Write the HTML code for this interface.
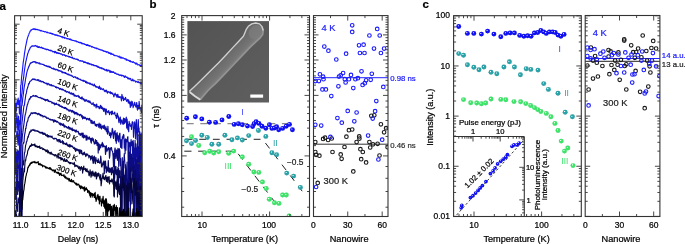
<!DOCTYPE html>
<html><head><meta charset="utf-8"><style>
html,body{margin:0;padding:0;background:#fff;width:685px;height:244px;overflow:hidden}
svg{display:block;will-change:transform}
text{font-family:"Liberation Sans", sans-serif;stroke:currentColor;stroke-width:0.22px}
</style></head><body>
<svg width="685" height="244" viewBox="0 0 685 244" font-family='"Liberation Sans", sans-serif'><defs>
<clipPath id="clipA"><rect x="14.6" y="16" width="127.6" height="200.8"/></clipPath>
<clipPath id="clipB"><rect x="181.7" y="15.8" width="127.8" height="201.1"/></clipPath>
<clipPath id="clipBR"><rect x="313.5" y="15.8" width="74.5" height="201.1"/></clipPath>
<clipPath id="clipC"><rect x="453.6" y="16" width="127.7" height="200.9"/></clipPath>
<clipPath id="clipCR"><rect x="585.2" y="15.6" width="74.7" height="201.2"/></clipPath>
<linearGradient id="semg" x1="0" y1="0" x2="1" y2="1"><stop offset="0" stop-color="#535353"/><stop offset="1" stop-color="#5f5f5f"/></linearGradient>
<linearGradient id="wireg" gradientUnits="userSpaceOnUse" x1="218.4" y1="64" x2="229.5" y2="74.6"><stop offset="0" stop-color="#6a6a6a"/><stop offset="0.5" stop-color="#747474"/><stop offset="0.8" stop-color="#848484"/><stop offset="1" stop-color="#8a8a8a"/></linearGradient>
<radialGradient id="gB" cx="0.5" cy="0.5" r="0.55" fx="0.36" fy="0.33">
<stop offset="0" stop-color="#ffffff"/><stop offset="0.12" stop-color="#b8b8ff"/><stop offset="0.34" stop-color="#1010f4"/><stop offset="0.82" stop-color="#1010f4"/><stop offset="1" stop-color="#0808b0"/></radialGradient><radialGradient id="gT" cx="0.5" cy="0.5" r="0.55" fx="0.36" fy="0.33">
<stop offset="0" stop-color="#ffffff"/><stop offset="0.12" stop-color="#c8f0f0"/><stop offset="0.34" stop-color="#2aa2a8"/><stop offset="0.82" stop-color="#2aa2a8"/><stop offset="1" stop-color="#1a7a80"/></radialGradient><radialGradient id="gG" cx="0.5" cy="0.5" r="0.55" fx="0.36" fy="0.33">
<stop offset="0" stop-color="#ffffff"/><stop offset="0.12" stop-color="#d0ffd8"/><stop offset="0.34" stop-color="#3ee46a"/><stop offset="0.82" stop-color="#3ee46a"/><stop offset="1" stop-color="#22b048"/></radialGradient></defs><text x="-0.5" y="9.8" font-size="11.5" text-anchor="start" fill="#000" color="#000" font-weight="bold" >a</text>
<text x="149.6" y="8.2" font-size="11.5" text-anchor="start" fill="#000" color="#000" font-weight="bold" >b</text>
<text x="422.6" y="8.3" font-size="11.5" text-anchor="start" fill="#000" color="#000" font-weight="bold" >c</text>
<g clip-path="url(#clipA)">
<path d="M14.8,97.01 L15.22,116.42 L15.64,109.69 L16.06,103.42 L16.48,110.8 L16.9,102.82 L17.32,100.11 L17.74,104.12 L18.16,98.08 L18.58,104.53 L19,100.25 L19.42,113.98 L19.84,100.91 L20.26,101.14 L20.68,85.51 L21.1,84.75 L21.52,77.83 L21.94,74.35 L22.36,70.6 L22.78,66.76 L23.2,62.65 L23.62,59.97 L24.04,57.22 L24.46,53.62 L24.88,51.12 L25.3,48.58 L25.6,46.47 L25.9,45.32 L26.2,43.91 L26.5,42.47 L26.8,40.96 L27.1,39.48 L27.4,38.47 L27.7,37.3 L28,36.53 L28.3,35.66 L28.6,35.03 L28.9,34.15 L29.2,33.17 L29.5,32.88 L29.8,32.17 L30.1,31.12 L30.4,30.78 L30.7,31 L31,29.9 L31.3,30.22 L31.6,29.86 L31.9,29.69 L32.2,29.4 L32.5,29.41 L32.8,29.18 L33.1,28.86 L33.4,29.36 L33.7,28.75 L34,29.14 L34.3,29.03 L34.6,28.77 L34.9,29.65 L35.2,29.03 L35.5,29.01 L35.8,29.2 L36.1,29.57 L36.4,29.6 L36.7,29.55 L37,29.27 L37.3,29.47 L37.6,29.81 L37.9,29.93 L38.2,29.81 L38.5,29.8 L38.8,29.79 L39.1,30.1 L39.4,30.11 L39.7,30.3 L40,30.59 L40.3,30.29 L40.6,30.98 L40.9,30.99 L41.2,30.46 L41.5,30.87 L41.8,30.97 L42.1,30.98 L42.4,31.03 L42.7,31.16 L43,31.35 L43.3,31.34 L43.6,31.39 L43.9,31.43 L44.2,31.64 L44.5,31.76 L44.8,31.95 L45.1,31.66 L45.4,31.77 L45.7,31.84 L46,31.9 L46.3,32.12 L46.6,32.27 L46.9,32.76 L47.2,32.56 L47.5,32.16 L47.8,32.79 L48.1,32.71 L48.4,32.77 L48.7,32.81 L49,32.71 L49.3,32.89 L49.6,33.22 L49.9,33.36 L50.2,33.45 L50.5,33.36 L50.8,32.95 L51.1,33.32 L51.4,33.34 L51.7,33.57 L52,34.16 L52.3,34.15 L52.6,33.58 L52.9,34.18 L53.2,34.25 L53.5,34.05 L53.8,34.35 L54.1,34.37 L54.4,34.88 L54.7,34.79 L55,34.84 L55.3,34.68 L55.6,35.31 L55.9,34.82 L56.2,35.33 L56.5,35.03 L56.8,34.93 L57.1,35.32 L57.4,35.75 L57.7,35.26 L58,35.5 L58.3,35.63 L58.6,35.93 L58.9,35.9 L59.2,35.92 L59.5,36.07 L59.8,36.28 L60.1,36.15 L60.4,36.37 L60.7,36.53 L61,36.62 L61.3,36.72 L61.6,37.08 L61.9,36.49 L62.2,36.84 L62.5,36.75 L62.8,37.88 L63.1,37.32 L63.4,37.34 L63.7,37.2 L64,37.44 L64.3,37.34 L64.6,38.29 L64.9,37.59 L65.2,37.84 L65.5,37.93 L65.8,38.12 L66.1,38.29 L66.4,38.32 L66.7,38.5 L67,38.85 L67.3,38.66 L67.6,38.59 L67.9,38.97 L68.2,38.7 L68.5,38.87 L68.8,38.82 L69.1,38.97 L69.4,39.54 L69.7,39.2 L70,39.42 L70.3,38.91 L70.6,39.69 L70.9,39.99 L71.2,39.43 L71.5,40.1 L71.8,40.16 L72.1,40.11 L72.4,40.33 L72.7,40.35 L73,40.29 L73.3,40.42 L73.6,40.61 L73.9,40.54 L74.2,40.61 L74.5,40.86 L74.8,40.8 L75.1,41.08 L75.4,40.81 L75.7,41.24 L76,40.71 L76.3,41.28 L76.6,41.39 L76.9,41.94 L77.2,41.79 L77.5,41.63 L77.8,41.84 L78.1,42.06 L78.4,42.3 L78.7,42.1 L79,42.44 L79.3,42.47 L79.6,42.43 L79.9,42.84 L80.2,42.38 L80.5,42.51 L80.8,42.64 L81.1,43.13 L81.4,42.76 L81.7,43.65 L82,43.83 L82.3,43.36 L82.6,43.22 L82.9,43.64 L83.2,43.72 L83.5,43.86 L83.8,43.49 L84.1,44.1 L84.4,44.36 L84.7,44.11 L85,44.23 L85.3,44.7 L85.6,44.48 L85.9,44.79 L86.2,44.89 L86.5,45.46 L86.8,44.93 L87.1,44.52 L87.4,45.47 L87.7,45.48 L88,44.97 L88.3,45.7 L88.6,45.55 L88.9,45.28 L89.2,46.01 L89.5,46.22 L89.8,45.57 L90.1,45.89 L90.4,45.92 L90.7,46.05 L91,46.25 L91.3,46.81 L91.6,46.52 L91.9,47.1 L92.2,46.69 L92.5,46.69 L92.8,46.96 L93.1,47.18 L93.4,47.49 L93.7,47.32 L94,47.3 L94.3,47.69 L94.6,47.86 L94.9,48.23 L95.2,47.94 L95.5,48.27 L95.8,48.21 L96.1,47.79 L96.4,48.3 L96.7,48.77 L97,48.51 L97.3,48.38 L97.6,48.65 L97.9,48.88 L98.2,49.14 L98.5,49.1 L98.8,48.87 L99.1,49.57 L99.4,49.51 L99.7,49.45 L100,49.41 L100.3,49.97 L100.7,49.78 L101.1,50.15 L101.5,50.13 L101.9,49.88 L102.3,50.59 L102.7,50.42 L103.1,50.69 L103.5,50.69 L103.9,51.38 L104.3,51.48 L104.7,51.04 L105.1,51.3 L105.5,51.27 L105.9,51.72 L106.3,52.38 L106.7,51.68 L107.1,51.68 L107.5,51.96 L107.9,52.05 L108.3,53.15 L108.7,52.34 L109.1,52.86 L109.5,53.3 L109.9,52.74 L110.3,53.4 L110.7,54.15 L111.1,53.19 L111.5,53.59 L111.9,54.37 L112.3,54.2 L112.7,54.34 L113.1,54.01 L113.5,55.15 L113.9,54.97 L114.3,55.08 L114.7,55.67 L115.1,55.39 L115.5,55.69 L115.9,55.8 L116.3,55.85 L116.7,55.65 L117.1,55.87 L117.5,56.04 L117.9,56.43 L118.3,56.89 L118.7,56.79 L119.1,56.01 L119.5,57.04 L119.9,57.64 L120.3,57.42 L120.7,56.9 L121.1,58.3 L121.5,57.38 L121.9,57.27 L122.3,58.08 L122.7,58.11 L123.1,57.89 L123.5,58.02 L123.9,58.47 L124.3,58.72 L124.7,58.49 L125.1,59.11 L125.5,58.83 L125.9,58.93 L126.3,60.21 L126.7,59.28 L127.1,60.17 L127.5,60.2 L127.9,59.89 L128.3,60.43 L128.7,60.76 L129.1,60.38 L129.5,61.38 L129.9,60.87 L130.3,60.6 L130.7,61.85 L131.1,61.7 L131.5,61.55 L131.9,61.97 L132.3,62.46 L132.7,62.28 L133.1,61.55 L133.5,62.29 L133.9,62.4 L134.3,62.81 L134.7,62.67 L135.1,63.03 L135.5,64.01 L135.9,63.29 L136.3,64.17 L136.7,63.05 L137.1,63.91 L137.5,64.09 L137.9,65.08 L138.3,64.76 L138.7,64.72 L139.1,64.58 L139.5,65.04 L139.9,65.54 L140.3,65.3 L140.7,65.55 L141.1,65.13 L141.5,64.93 L141.9,66.52" fill="none" stroke="#1717ff" stroke-width="1.15" stroke-linejoin="round"/>
<path d="M14.8,115.4 L15.22,118.65 L15.64,132.04 L16.06,125.66 L16.48,120.01 L16.9,113.4 L17.32,120.08 L17.74,130.2 L18.16,123.08 L18.58,116.18 L19,131.29 L19.42,120.91 L19.84,124.56 L20.26,123.09 L20.68,110.66 L21.1,100.29 L21.52,95.4 L21.94,93.33 L22.36,89.25 L22.78,81.89 L23.2,79.87 L23.62,77.44 L24.04,73.32 L24.46,70.33 L24.88,67.52 L25.3,64.63 L25.6,63.08 L25.9,61.21 L26.2,60.36 L26.5,58.57 L26.8,57.62 L27.1,56.2 L27.4,55.03 L27.7,53.72 L28,53.03 L28.3,52.11 L28.6,51.27 L28.9,50.33 L29.2,50.18 L29.5,49.17 L29.8,48.94 L30.1,48.14 L30.4,47.31 L30.7,47.14 L31,46.96 L31.3,46.46 L31.6,46.18 L31.9,45.8 L32.2,46.21 L32.5,46.13 L32.8,45.88 L33.1,46.1 L33.4,45.93 L33.7,45.82 L34,46.32 L34.3,45.87 L34.6,45.95 L34.9,45.94 L35.2,45.47 L35.5,45.65 L35.8,45.72 L36.1,46.14 L36.4,46.28 L36.7,46.63 L37,45.85 L37.3,46.39 L37.6,47.04 L37.9,47.33 L38.2,46.87 L38.5,47.42 L38.8,46.78 L39.1,46.63 L39.4,47.04 L39.7,47.26 L40,47.67 L40.3,47.65 L40.6,47.64 L40.9,47.61 L41.2,47.12 L41.5,47.82 L41.8,47.43 L42.1,47.82 L42.4,47.88 L42.7,48.39 L43,48.37 L43.3,48.39 L43.6,48.05 L43.9,48.49 L44.2,49 L44.5,48.89 L44.8,48.92 L45.1,48.86 L45.4,48.74 L45.7,49.19 L46,49.44 L46.3,49.18 L46.6,49.46 L46.9,49.83 L47.2,49.34 L47.5,49.52 L47.8,49.33 L48.1,49.61 L48.4,49.51 L48.7,49.89 L49,50.42 L49.3,50.38 L49.6,50.47 L49.9,50.59 L50.2,50.16 L50.5,50.47 L50.8,50.79 L51.1,50.27 L51.4,50.92 L51.7,50.88 L52,51.04 L52.3,51.05 L52.6,51.32 L52.9,52 L53.2,51.55 L53.5,51.57 L53.8,51.81 L54.1,51.91 L54.4,51.4 L54.7,52.81 L55,52.02 L55.3,51.97 L55.6,51.47 L55.9,52.63 L56.2,52.67 L56.5,53.21 L56.8,52.39 L57.1,53.13 L57.4,53.15 L57.7,52.7 L58,53.38 L58.3,52.94 L58.6,53.05 L58.9,53.54 L59.2,53.05 L59.5,53.55 L59.8,53.65 L60.1,53.93 L60.4,53.91 L60.7,54.12 L61,53.52 L61.3,54.05 L61.6,54.14 L61.9,54.42 L62.2,54.34 L62.5,55.19 L62.8,54.7 L63.1,54.8 L63.4,55.01 L63.7,54.93 L64,54.55 L64.3,55.05 L64.6,55.38 L64.9,55.05 L65.2,55.71 L65.5,56.02 L65.8,55.63 L66.1,55.85 L66.4,55.53 L66.7,55.92 L67,55.98 L67.3,56.19 L67.6,56.02 L67.9,56.39 L68.2,56.36 L68.5,56.84 L68.8,56.39 L69.1,56.65 L69.4,56.55 L69.7,57.17 L70,56.84 L70.3,57.28 L70.6,57.45 L70.9,57.06 L71.2,57.41 L71.5,57.62 L71.8,57.72 L72.1,58.03 L72.4,57.08 L72.7,58.11 L73,58.14 L73.3,58.3 L73.6,58.4 L73.9,58.78 L74.2,58.3 L74.5,58.65 L74.8,58.74 L75.1,58.91 L75.4,59.11 L75.7,59.18 L76,59.2 L76.3,59.17 L76.6,59.36 L76.9,58.96 L77.2,59.04 L77.5,59.74 L77.8,59.91 L78.1,59.45 L78.4,59.86 L78.7,60.26 L79,60.61 L79.3,60.82 L79.6,60.94 L79.9,60.52 L80.2,60.7 L80.5,60.94 L80.8,60.51 L81.1,61.17 L81.4,60.98 L81.7,60.99 L82,61.22 L82.3,60.79 L82.6,60.93 L82.9,61.37 L83.2,61.4 L83.5,61.84 L83.8,62.63 L84.1,61.83 L84.4,61.85 L84.7,62.46 L85,61.81 L85.3,62.04 L85.6,62.56 L85.9,62.6 L86.2,63.01 L86.5,62.94 L86.8,62.69 L87.1,63.36 L87.4,63.05 L87.7,63.61 L88,62.75 L88.3,63.82 L88.6,63.06 L88.9,63.74 L89.2,63.58 L89.5,64.23 L89.8,63.49 L90.1,64.19 L90.4,64.29 L90.7,64.26 L91,64.04 L91.3,64.72 L91.6,64.21 L91.9,65.07 L92.2,64.61 L92.5,64.57 L92.8,64.68 L93.1,65.11 L93.4,64.77 L93.7,65.59 L94,65.35 L94.3,65.64 L94.6,65.27 L94.9,65.67 L95.2,65.67 L95.5,65.77 L95.8,65.61 L96.1,66.14 L96.4,65.65 L96.7,66.24 L97,66.54 L97.3,66.01 L97.6,67.16 L97.9,66.91 L98.2,66.48 L98.5,67.39 L98.8,66.8 L99.1,67.23 L99.4,67.38 L99.7,67.66 L100,68.34 L100.3,67.95 L100.7,67.52 L101.1,67.81 L101.5,68.65 L101.9,67.97 L102.3,68.28 L102.7,68.27 L103.1,69.41 L103.5,68.68 L103.9,69.07 L104.3,69.08 L104.7,70.1 L105.1,69.81 L105.5,69.77 L105.9,70.55 L106.3,69.91 L106.7,69.47 L107.1,71.27 L107.5,70.25 L107.9,70.64 L108.3,70.08 L108.7,70.84 L109.1,70.27 L109.5,70.59 L109.9,72.37 L110.3,71.87 L110.7,70.83 L111.1,72.38 L111.5,71.49 L111.9,72.26 L112.3,71.71 L112.7,72.47 L113.1,72.35 L113.5,71.71 L113.9,72.36 L114.3,72.64 L114.7,73.35 L115.1,72.87 L115.5,73.48 L115.9,73.13 L116.3,74.03 L116.7,74.06 L117.1,74.45 L117.5,74.07 L117.9,74.15 L118.3,74.38 L118.7,74.33 L119.1,75.38 L119.5,75.16 L119.9,74.82 L120.3,74.8 L120.7,75.37 L121.1,75.38 L121.5,75.92 L121.9,74.97 L122.3,75.55 L122.7,75.82 L123.1,75.94 L123.5,75.59 L123.9,76.55 L124.3,77.26 L124.7,77.4 L125.1,75.87 L125.5,76.17 L125.9,76.73 L126.3,77.45 L126.7,77.22 L127.1,77.07 L127.5,78.07 L127.9,78.83 L128.3,78.15 L128.7,77.9 L129.1,79.27 L129.5,78.78 L129.9,78.24 L130.3,78.85 L130.7,78.58 L131.1,80.37 L131.5,80.05 L131.9,80.85 L132.3,80.54 L132.7,79.06 L133.1,80.62 L133.5,80.99 L133.9,80.16 L134.3,80.44 L134.7,80.65 L135.1,80.92 L135.5,82.08 L135.9,81.36 L136.3,81.4 L136.7,81.66 L137.1,82.05 L137.5,82.31 L137.9,81.78 L138.3,81.49 L138.7,82.58 L139.1,82.64 L139.5,82.39 L139.9,82.9 L140.3,82.71 L140.7,83.72 L141.1,83.6 L141.5,83.34 L141.9,84.11" fill="none" stroke="#1515e8" stroke-width="1.15" stroke-linejoin="round"/>
<path d="M14.8,153.2 L15.22,138.51 L15.64,137.18 L16.06,137.2 L16.48,136.83 L16.9,131.24 L17.32,131.26 L17.74,142.47 L18.16,145.23 L18.58,135.55 L19,131.52 L19.42,130.37 L19.84,222.5 L20.26,120.13 L20.68,123.74 L21.1,114.25 L21.52,106.09 L21.94,105.68 L22.36,102.64 L22.78,98.06 L23.2,95.26 L23.62,91.69 L24.04,88.15 L24.46,85.5 L24.88,83.55 L25.3,80.61 L25.6,78.78 L25.9,77.37 L26.2,75.81 L26.5,74.05 L26.8,72.69 L27.1,71.54 L27.4,70.05 L27.7,69.84 L28,68.88 L28.3,68.06 L28.6,67.04 L28.9,66.09 L29.2,66.22 L29.5,64.93 L29.8,64.69 L30.1,63.67 L30.4,63.14 L30.7,63.36 L31,62.68 L31.3,63 L31.6,62.7 L31.9,62.24 L32.2,62.32 L32.5,62.46 L32.8,61.74 L33.1,61.89 L33.4,61.98 L33.7,61.59 L34,61.75 L34.3,61.85 L34.6,61.51 L34.9,62.19 L35.2,61.64 L35.5,62.08 L35.8,62.24 L36.1,63.21 L36.4,62.3 L36.7,62.43 L37,62.47 L37.3,62.48 L37.6,62.7 L37.9,63.18 L38.2,63.18 L38.5,63.15 L38.8,62.91 L39.1,63.69 L39.4,63.49 L39.7,62.93 L40,64.12 L40.3,63.66 L40.6,63.78 L40.9,63.9 L41.2,63.86 L41.5,64.19 L41.8,64.2 L42.1,64.31 L42.4,64.27 L42.7,64.21 L43,64.53 L43.3,64.42 L43.6,64.81 L43.9,65.08 L44.2,64.74 L44.5,65.51 L44.8,65.56 L45.1,65.55 L45.4,65.9 L45.7,65.48 L46,65.59 L46.3,65.58 L46.6,66.21 L46.9,66.48 L47.2,66.31 L47.5,66.26 L47.8,66.78 L48.1,65.95 L48.4,66.61 L48.7,66.97 L49,66.97 L49.3,66.31 L49.6,67.25 L49.9,67.5 L50.2,67.23 L50.5,66.97 L50.8,67.46 L51.1,67.75 L51.4,68.1 L51.7,68.02 L52,68.56 L52.3,68.59 L52.6,68.56 L52.9,68.51 L53.2,67.99 L53.5,69.17 L53.8,68.45 L54.1,68.52 L54.4,68.67 L54.7,69.53 L55,69.38 L55.3,69.83 L55.6,69.73 L55.9,69.02 L56.2,69.66 L56.5,69.5 L56.8,69.65 L57.1,69.97 L57.4,69.73 L57.7,70.36 L58,70.04 L58.3,71 L58.6,70.23 L58.9,70.73 L59.2,70.55 L59.5,70.95 L59.8,70.6 L60.1,71.24 L60.4,71.06 L60.7,71.3 L61,70.78 L61.3,71.35 L61.6,71.88 L61.9,71.68 L62.2,72.86 L62.5,71.99 L62.8,71.86 L63.1,72.37 L63.4,72.57 L63.7,72.84 L64,72.62 L64.3,72.46 L64.6,72.87 L64.9,72.96 L65.2,73.49 L65.5,72.54 L65.8,73.55 L66.1,73.6 L66.4,73.27 L66.7,73.87 L67,74.13 L67.3,73.81 L67.6,74.28 L67.9,74.61 L68.2,74.04 L68.5,74.69 L68.8,74.31 L69.1,75.1 L69.4,75.2 L69.7,74.77 L70,74.93 L70.3,75.04 L70.6,75.47 L70.9,75.63 L71.2,75.19 L71.5,75.98 L71.8,75.81 L72.1,75.83 L72.4,76.35 L72.7,76.09 L73,76.75 L73.3,77.12 L73.6,77.46 L73.9,77.05 L74.2,76.98 L74.5,76.78 L74.8,76.87 L75.1,77.26 L75.4,77.43 L75.7,76.84 L76,77.98 L76.3,77.68 L76.6,77.94 L76.9,78.19 L77.2,78.56 L77.5,77.63 L77.8,78.47 L78.1,78.79 L78.4,78.45 L78.7,78.42 L79,79.15 L79.3,79.25 L79.6,79.25 L79.9,79.45 L80.2,79.14 L80.5,79.91 L80.8,79.59 L81.1,80.19 L81.4,80.17 L81.7,80.38 L82,80.52 L82.3,80.28 L82.6,80.35 L82.9,80.96 L83.2,81.45 L83.5,80.19 L83.8,80.79 L84.1,80.67 L84.4,80.9 L84.7,81.47 L85,80.93 L85.3,80.99 L85.6,82.55 L85.9,81.89 L86.2,81.46 L86.5,83.02 L86.8,82.43 L87.1,82.51 L87.4,82.24 L87.7,82.76 L88,83.54 L88.3,83.19 L88.6,82.89 L88.9,83.24 L89.2,82.93 L89.5,83.8 L89.8,84.06 L90.1,83.63 L90.4,83.76 L90.7,83.16 L91,84.3 L91.3,84.52 L91.6,84.67 L91.9,84.49 L92.2,84.08 L92.5,84.47 L92.8,85.29 L93.1,85.33 L93.4,85.4 L93.7,85.78 L94,85.36 L94.3,83.96 L94.6,85.3 L94.9,85.91 L95.2,85.71 L95.5,86.96 L95.8,85.96 L96.1,86.96 L96.4,86.54 L96.7,86.55 L97,87.49 L97.3,87 L97.6,86.88 L97.9,86.97 L98.2,87.07 L98.5,88.46 L98.8,87.98 L99.1,87.31 L99.4,86.06 L99.7,88.36 L100,87.32 L100.3,89.34 L100.7,88.85 L101.1,87.91 L101.5,89.17 L101.9,89.15 L102.3,89.65 L102.7,89.5 L103.1,88.65 L103.5,88.86 L103.9,89.83 L104.3,91.13 L104.7,90.64 L105.1,91.73 L105.5,90.25 L105.9,91.25 L106.3,90.11 L106.7,91.03 L107.1,92.61 L107.5,93.08 L107.9,91.31 L108.3,91.84 L108.7,91.82 L109.1,92.3 L109.5,92.83 L109.9,92.26 L110.3,91.63 L110.7,93.62 L111.1,93.28 L111.5,92.58 L111.9,93.35 L112.3,93.98 L112.7,93.1 L113.1,94.54 L113.5,94.76 L113.9,96.81 L114.3,95.09 L114.7,94.05 L115.1,93.11 L115.5,94.6 L115.9,95.02 L116.3,96.1 L116.7,94.53 L117.1,97.37 L117.5,95.88 L117.9,94.26 L118.3,96.84 L118.7,97.27 L119.1,96.6 L119.5,97.54 L119.9,97.1 L120.3,96.76 L120.7,97.04 L121.1,98.56 L121.5,100.89 L121.9,94.43 L122.3,96.27 L122.7,98.78 L123.1,96.9 L123.5,100.55 L123.9,98.32 L124.3,99.63 L124.7,99.37 L125.1,99.31 L125.5,97.43 L125.9,98.52 L126.3,100.7 L126.7,101.33 L127.1,101.07 L127.5,99.75 L127.9,99.38 L128.3,102.89 L128.7,100.13 L129.1,102.88 L129.5,103.72 L129.9,101.72 L130.3,107.36 L130.7,102.32 L131.1,102.07 L131.5,105.87 L131.9,101.2 L132.3,101.81 L132.7,103.53 L133.1,107.74 L133.5,105.98 L133.9,105.56 L134.3,103.73 L134.7,102.23 L135.1,105 L135.5,105.73 L135.9,107.22 L136.3,104.65 L136.7,102.46 L137.1,107.84 L137.5,110.15 L137.9,105.41 L138.3,106.8 L138.7,108.91 L139.1,101.26 L139.5,104.84 L139.9,109.04 L140.3,108.77 L140.7,108.35 L141.1,108.37 L141.5,112.4 L141.9,104.79" fill="none" stroke="#1313d0" stroke-width="1.15" stroke-linejoin="round"/>
<path d="M14.8,152.52 L15.22,173.73 L15.64,148.59 L16.06,159.05 L16.48,175.18 L16.9,151.8 L17.32,169.13 L17.74,149.81 L18.16,168.19 L18.58,150.99 L19,158.57 L19.42,151.91 L19.84,152.88 L20.26,222.5 L20.68,152.3 L21.1,141.17 L21.52,132.72 L21.94,123.04 L22.36,119.72 L22.78,115.41 L23.2,112.23 L23.62,108.03 L24.04,105.24 L24.46,105.17 L24.88,101.13 L25.3,98.62 L25.6,96.42 L25.9,94.08 L26.2,93.99 L26.5,92.4 L26.8,90.12 L27.1,89.27 L27.4,88.39 L27.7,87.54 L28,86.21 L28.3,85.39 L28.6,83.67 L28.9,83.96 L29.2,83.84 L29.5,82.56 L29.8,81.7 L30.1,81.31 L30.4,81.17 L30.7,80.97 L31,80.55 L31.3,80.59 L31.6,79.98 L31.9,79.89 L32.2,79.26 L32.5,79.44 L32.8,78.87 L33.1,79.07 L33.4,79.56 L33.7,79.06 L34,79.23 L34.3,79.08 L34.6,79.61 L34.9,79.03 L35.2,79.42 L35.5,79.95 L35.8,79.88 L36.1,79.86 L36.4,80.06 L36.7,80.07 L37,80.2 L37.3,80.14 L37.6,79.66 L37.9,80.64 L38.2,80.21 L38.5,80.52 L38.8,79.7 L39.1,80.52 L39.4,81.22 L39.7,81.31 L40,80.82 L40.3,81.24 L40.6,80.71 L40.9,81.59 L41.2,82.05 L41.5,81.56 L41.8,81.29 L42.1,81.53 L42.4,81.53 L42.7,81.72 L43,81.58 L43.3,82.52 L43.6,82.1 L43.9,82.19 L44.2,82.95 L44.5,83.04 L44.8,82.61 L45.1,82.98 L45.4,83.05 L45.7,83.52 L46,83.2 L46.3,83.06 L46.6,83.76 L46.9,83.81 L47.2,84.81 L47.5,83.94 L47.8,83.24 L48.1,83.36 L48.4,83.63 L48.7,84.29 L49,84.79 L49.3,84.22 L49.6,84.48 L49.9,85.18 L50.2,84.62 L50.5,85.11 L50.8,85.18 L51.1,85.59 L51.4,84.57 L51.7,85.63 L52,85.82 L52.3,85.74 L52.6,85.82 L52.9,85.24 L53.2,85.75 L53.5,85.88 L53.8,86.18 L54.1,86.14 L54.4,86.14 L54.7,86.33 L55,86.57 L55.3,86.8 L55.6,87.42 L55.9,87.32 L56.2,86.7 L56.5,87.22 L56.8,88.07 L57.1,87.48 L57.4,87.69 L57.7,87.36 L58,87.53 L58.3,87.81 L58.6,87.83 L58.9,88.56 L59.2,88.36 L59.5,88.73 L59.8,89.47 L60.1,88.83 L60.4,88.46 L60.7,88.62 L61,88.84 L61.3,89.66 L61.6,89.29 L61.9,89.66 L62.2,88.79 L62.5,89.99 L62.8,90.04 L63.1,89.65 L63.4,89.64 L63.7,89.94 L64,90.46 L64.3,90.58 L64.6,90.86 L64.9,91.15 L65.2,90.38 L65.5,90.95 L65.8,91.77 L66.1,91.25 L66.4,91.47 L66.7,92.2 L67,91.86 L67.3,91.68 L67.6,91.64 L67.9,92.02 L68.2,92.14 L68.5,92.7 L68.8,92.75 L69.1,91.85 L69.4,92.17 L69.7,92.5 L70,93.63 L70.3,93.12 L70.6,93.46 L70.9,93.77 L71.2,94.11 L71.5,92.84 L71.8,93.93 L72.1,93.41 L72.4,93.5 L72.7,94.61 L73,94.48 L73.3,94.6 L73.6,93.42 L73.9,94.85 L74.2,96.19 L74.5,95.52 L74.8,94.92 L75.1,95.51 L75.4,95.32 L75.7,96.22 L76,96.26 L76.3,95.76 L76.6,96.41 L76.9,95.9 L77.2,96.19 L77.5,96.16 L77.8,95.74 L78.1,95.46 L78.4,95.91 L78.7,97.27 L79,96.66 L79.3,96.41 L79.6,97.19 L79.9,98.02 L80.2,97.94 L80.5,98.52 L80.8,98.23 L81.1,97.55 L81.4,98.14 L81.7,99.07 L82,96.74 L82.3,97.81 L82.6,98.29 L82.9,98.46 L83.2,99.97 L83.5,98.9 L83.8,98.91 L84.1,99.2 L84.4,99.99 L84.7,100.74 L85,101.53 L85.3,99.81 L85.6,100.74 L85.9,100.31 L86.2,99.71 L86.5,100.86 L86.8,100.06 L87.1,100.79 L87.4,101.09 L87.7,101.68 L88,101.53 L88.3,100.55 L88.6,101.85 L88.9,102.29 L89.2,102.18 L89.5,101.71 L89.8,100.85 L90.1,102.84 L90.4,101.97 L90.7,102.66 L91,103.01 L91.3,103.61 L91.6,103.98 L91.9,104.5 L92.2,103.82 L92.5,104.15 L92.8,103.59 L93.1,102.63 L93.4,104.43 L93.7,104.79 L94,105.56 L94.3,106.11 L94.6,104.36 L94.9,105.3 L95.2,105.43 L95.5,104.99 L95.8,105.98 L96.1,107.86 L96.4,104.33 L96.7,104.12 L97,106.44 L97.3,106.94 L97.6,106.85 L97.9,106.26 L98.2,106.78 L98.5,106.51 L98.8,106.47 L99.1,108.62 L99.4,108.69 L99.7,108.15 L100,107.19 L100.3,105.89 L100.7,105.23 L101.1,108.41 L101.5,106.45 L101.9,108.68 L102.3,107.24 L102.7,109.29 L103.1,108.09 L103.5,111.04 L103.9,111.47 L104.3,108.31 L104.7,109.62 L105.1,108.82 L105.5,113.21 L105.9,114.71 L106.3,109.13 L106.7,111.57 L107.1,111.39 L107.5,112.22 L107.9,112.58 L108.3,111.29 L108.7,110.59 L109.1,112.12 L109.5,114.56 L109.9,112.85 L110.3,112.49 L110.7,112.48 L111.1,111.38 L111.5,114.46 L111.9,114.6 L112.3,111.1 L112.7,112.49 L113.1,113.53 L113.5,113.87 L113.9,113.66 L114.3,113.49 L114.7,112.16 L115.1,114.63 L115.5,115.61 L115.9,115.31 L116.3,117.87 L116.7,118.53 L117.1,113.18 L117.5,113.84 L117.9,116.81 L118.3,116.1 L118.7,121.43 L119.1,122.71 L119.5,119.04 L119.9,117.62 L120.3,117.05 L120.7,124.21 L121.1,120.91 L121.5,121.44 L121.9,119.7 L122.3,123.24 L122.7,122.49 L123.1,124.53 L123.5,118.01 L123.9,120.41 L124.3,123.63 L124.7,118.46 L125.1,122.75 L125.5,120.7 L125.9,119.73 L126.3,117.17 L126.7,128.07 L127.1,119.18 L127.5,123.29 L127.9,129.64 L128.3,124.65 L128.7,131.72 L129.1,121.43 L129.5,123.91 L129.9,123.47 L130.3,126.3 L130.7,126.36 L131.1,125.05 L131.5,129.5 L131.9,124.24 L132.3,121.62 L132.7,123.1 L133.1,122.47 L133.5,137.25 L133.9,128.97 L134.3,128.43 L134.7,121.89 L135.1,126.09 L135.5,138.76 L135.9,129.04 L136.3,119.47 L136.7,123.31 L137.1,139.64 L137.5,131.07 L137.9,131.93 L138.3,119.67 L138.7,131.86 L139.1,127.95 L139.5,179.93 L139.9,131.91 L140.3,141.09 L140.7,134.38 L141.1,222.5 L141.5,136.92 L141.9,132.56" fill="none" stroke="#1111b8" stroke-width="1.15" stroke-linejoin="round"/>
<path d="M14.8,167.02 L15.22,170.3 L15.64,169.53 L16.06,165.18 L16.48,198.83 L16.9,169.85 L17.32,176.6 L17.74,194.39 L18.16,166.85 L18.58,165.17 L19,167.93 L19.42,164.14 L19.84,222.5 L20.26,222.5 L20.68,196.98 L21.1,139.47 L21.52,136.54 L21.94,141.94 L22.36,135.75 L22.78,132.93 L23.2,129.54 L23.62,126.15 L24.04,123.2 L24.46,120.15 L24.88,116.47 L25.3,114.49 L25.6,113.48 L25.9,112.02 L26.2,110.16 L26.5,108.76 L26.8,107 L27.1,105.79 L27.4,104.37 L27.7,104.03 L28,102.81 L28.3,101.85 L28.6,101.25 L28.9,100.42 L29.2,99.25 L29.5,98.7 L29.8,99.29 L30.1,98.48 L30.4,97.8 L30.7,96.5 L31,97.29 L31.3,96.99 L31.6,97.01 L31.9,96.3 L32.2,96.29 L32.5,96.06 L32.8,96.17 L33.1,95.39 L33.4,95.93 L33.7,95.72 L34,96.14 L34.3,96.21 L34.6,96.22 L34.9,95.83 L35.2,95.76 L35.5,95.6 L35.8,96.66 L36.1,95.58 L36.4,96.14 L36.7,96.05 L37,96.75 L37.3,96.38 L37.6,96.67 L37.9,96.91 L38.2,97.52 L38.5,97.45 L38.8,97.55 L39.1,97.46 L39.4,97.62 L39.7,97.67 L40,97.91 L40.3,97.35 L40.6,97.94 L40.9,98.1 L41.2,97.91 L41.5,98.68 L41.8,98.47 L42.1,98.18 L42.4,98.26 L42.7,98.6 L43,99.13 L43.3,99.48 L43.6,98.96 L43.9,98.78 L44.2,99.17 L44.5,100.07 L44.8,99.7 L45.1,99.6 L45.4,100.91 L45.7,100.14 L46,99.43 L46.3,100.34 L46.6,99.98 L46.9,100.2 L47.2,99.47 L47.5,100.28 L47.8,99.79 L48.1,101.31 L48.4,100.28 L48.7,101.43 L49,100.95 L49.3,101.24 L49.6,101.65 L49.9,101.58 L50.2,101.64 L50.5,101.27 L50.8,101.61 L51.1,101.48 L51.4,102.13 L51.7,102.12 L52,103.33 L52.3,102.35 L52.6,102.38 L52.9,102.57 L53.2,103.03 L53.5,103.65 L53.8,103.14 L54.1,103.67 L54.4,102.98 L54.7,104.85 L55,103.4 L55.3,103.85 L55.6,103.93 L55.9,104.44 L56.2,104.1 L56.5,103.11 L56.8,104.29 L57.1,104.53 L57.4,104.67 L57.7,104.78 L58,104.66 L58.3,104.2 L58.6,105.35 L58.9,105.57 L59.2,105.07 L59.5,104.76 L59.8,105.7 L60.1,106.49 L60.4,106.08 L60.7,106.34 L61,106.59 L61.3,105.96 L61.6,107.23 L61.9,107.28 L62.2,106.56 L62.5,107.39 L62.8,106.97 L63.1,107.73 L63.4,107.72 L63.7,107.49 L64,107.89 L64.3,108.36 L64.6,107.41 L64.9,108.45 L65.2,107.65 L65.5,108.1 L65.8,107.58 L66.1,108.73 L66.4,108.97 L66.7,108.64 L67,109.81 L67.3,109.24 L67.6,109.13 L67.9,109.49 L68.2,110.18 L68.5,110.16 L68.8,111.06 L69.1,109.95 L69.4,110.15 L69.7,111.26 L70,110.77 L70.3,110 L70.6,110.66 L70.9,110.43 L71.2,111.17 L71.5,111.93 L71.8,112.17 L72.1,110.33 L72.4,111.25 L72.7,110.82 L73,111.35 L73.3,112.68 L73.6,111.34 L73.9,112.57 L74.2,111.64 L74.5,113.82 L74.8,112.71 L75.1,113.83 L75.4,112.32 L75.7,113.46 L76,113.68 L76.3,113.63 L76.6,112.45 L76.9,114.06 L77.2,114.84 L77.5,113.27 L77.8,113.5 L78.1,113.89 L78.4,114.42 L78.7,114.4 L79,114.52 L79.3,115.46 L79.6,114.91 L79.9,115.81 L80.2,114.34 L80.5,114.45 L80.8,114.64 L81.1,114.63 L81.4,115.72 L81.7,117.12 L82,115.73 L82.3,115.65 L82.6,119.03 L82.9,117.01 L83.2,116.98 L83.5,118.31 L83.8,116.66 L84.1,118.1 L84.4,117.34 L84.7,118.56 L85,118.09 L85.3,117.2 L85.6,118.17 L85.9,118.53 L86.2,118.37 L86.5,119.85 L86.8,119.2 L87.1,118.62 L87.4,119.04 L87.7,118.31 L88,119.22 L88.3,118.68 L88.6,119.96 L88.9,119.06 L89.2,119.52 L89.5,118.37 L89.8,118.97 L90.1,120.59 L90.4,120.56 L90.7,120.26 L91,122.85 L91.3,120.23 L91.6,121.63 L91.9,123.46 L92.2,120.7 L92.5,123.23 L92.8,122.5 L93.1,123.78 L93.4,122.15 L93.7,121.93 L94,123.16 L94.3,121.32 L94.6,123.4 L94.9,123.43 L95.2,125.42 L95.5,125.75 L95.8,124.34 L96.1,124.55 L96.4,124.44 L96.7,126.52 L97,125.24 L97.3,124.34 L97.6,124.31 L97.9,124.93 L98.2,124.5 L98.5,125.4 L98.8,127.3 L99.1,123.08 L99.4,125.43 L99.7,124.2 L100,128.06 L100.3,127.99 L100.7,124.06 L101.1,125.61 L101.5,129.04 L101.9,126.83 L102.3,126.24 L102.7,125.92 L103.1,127.92 L103.5,128.29 L103.9,125.46 L104.3,125.12 L104.7,128.77 L105.1,129.79 L105.5,129.42 L105.9,126.53 L106.3,131.3 L106.7,128.72 L107.1,132.06 L107.5,134.11 L107.9,126.33 L108.3,131.86 L108.7,131.29 L109.1,133.1 L109.5,135.62 L109.9,133.5 L110.3,132.71 L110.7,137.82 L111.1,133.53 L111.5,134.86 L111.9,131.83 L112.3,128.29 L112.7,129.84 L113.1,135.31 L113.5,138.5 L113.9,134.37 L114.3,131.71 L114.7,133.81 L115.1,130.6 L115.5,140.83 L115.9,133.55 L116.3,143.32 L116.7,136.02 L117.1,132.67 L117.5,136.03 L117.9,140.56 L118.3,135.85 L118.7,141.91 L119.1,137.41 L119.5,133.79 L119.9,133.23 L120.3,143.55 L120.7,147.45 L121.1,139.76 L121.5,139.7 L121.9,148.51 L122.3,136.9 L122.7,138.72 L123.1,135.6 L123.5,134.45 L123.9,135.11 L124.3,147.98 L124.7,140.07 L125.1,153.63 L125.5,138.73 L125.9,150.18 L126.3,139.48 L126.7,141.46 L127.1,141.61 L127.5,137.59 L127.9,136.71 L128.3,176 L128.7,141.98 L129.1,145.1 L129.5,146.71 L129.9,142.64 L130.3,163.77 L130.7,145.06 L131.1,139.69 L131.5,145.67 L131.9,145.44 L132.3,141.51 L132.7,157.85 L133.1,140.25 L133.5,143.78 L133.9,222.5 L134.3,148.3 L134.7,157.9 L135.1,140.41 L135.5,166.49 L135.9,143.78 L136.3,156.21 L136.7,148.15 L137.1,167.66 L137.5,143.56 L137.9,134.42 L138.3,166.23 L138.7,147.23 L139.1,146.54 L139.5,153.3 L139.9,136.74 L140.3,158.5 L140.7,141.78 L141.1,141.74 L141.5,156.61 L141.9,146.33" fill="none" stroke="#0e0e9d" stroke-width="1.15" stroke-linejoin="round"/>
<path d="M14.8,194.57 L15.22,187.57 L15.64,199.12 L16.06,181.74 L16.48,191.76 L16.9,182.18 L17.32,181.24 L17.74,181.66 L18.16,190.66 L18.58,181.69 L19,181.82 L19.42,181.96 L19.84,222.5 L20.26,203.09 L20.68,178.82 L21.1,222.5 L21.52,168.28 L21.94,222.5 L22.36,160.76 L22.78,145.15 L23.2,142.72 L23.62,143.36 L24.04,141.84 L24.46,135.83 L24.88,133.3 L25.3,131.18 L25.6,128.41 L25.9,128.64 L26.2,125.98 L26.5,125.54 L26.8,122.95 L27.1,122.1 L27.4,121.33 L27.7,121.14 L28,119.62 L28.3,117.48 L28.6,117.64 L28.9,116.59 L29.2,116.89 L29.5,115.39 L29.8,115.25 L30.1,115.18 L30.4,115.09 L30.7,114.13 L31,113.1 L31.3,112.73 L31.6,112.95 L31.9,113.45 L32.2,113.01 L32.5,113.66 L32.8,112.91 L33.1,112.61 L33.4,113.29 L33.7,112.94 L34,112.85 L34.3,112.68 L34.6,113.36 L34.9,112.96 L35.2,112.48 L35.5,112.66 L35.8,113.69 L36.1,112.89 L36.4,113.47 L36.7,113.67 L37,113.39 L37.3,113.62 L37.6,114.13 L37.9,114.67 L38.2,113.68 L38.5,113.98 L38.8,113.31 L39.1,114.3 L39.4,114.48 L39.7,114.23 L40,115.38 L40.3,114.47 L40.6,114.6 L40.9,115.99 L41.2,115.02 L41.5,115.88 L41.8,115.34 L42.1,115.6 L42.4,115.59 L42.7,115.52 L43,117.06 L43.3,116.1 L43.6,116.39 L43.9,116.75 L44.2,116.4 L44.5,116.25 L44.8,116.1 L45.1,116.67 L45.4,117.21 L45.7,116.92 L46,116.79 L46.3,117.5 L46.6,118.3 L46.9,118.26 L47.2,118.11 L47.5,117.87 L47.8,118.3 L48.1,118.19 L48.4,118.11 L48.7,118.66 L49,118.86 L49.3,119.3 L49.6,119.56 L49.9,119.4 L50.2,118.99 L50.5,119.99 L50.8,119.83 L51.1,119.59 L51.4,119.81 L51.7,120.16 L52,119.56 L52.3,119.51 L52.6,119.66 L52.9,120.72 L53.2,119.87 L53.5,121.19 L53.8,122.25 L54.1,119.99 L54.4,120.74 L54.7,120.01 L55,121.34 L55.3,121.37 L55.6,120.45 L55.9,121.45 L56.2,121.63 L56.5,122.05 L56.8,121.1 L57.1,121.5 L57.4,122.09 L57.7,121.54 L58,122.42 L58.3,122.71 L58.6,122.78 L58.9,122.75 L59.2,123.61 L59.5,124.17 L59.8,122.98 L60.1,123.9 L60.4,125.11 L60.7,123.02 L61,124.77 L61.3,123.57 L61.6,124.63 L61.9,124.05 L62.2,125.5 L62.5,124.63 L62.8,124.93 L63.1,123.86 L63.4,125.91 L63.7,124.19 L64,124.93 L64.3,127.11 L64.6,126.79 L64.9,125.75 L65.2,125.77 L65.5,126.3 L65.8,126.27 L66.1,127.3 L66.4,126.5 L66.7,126.96 L67,127.65 L67.3,128.15 L67.6,127.57 L67.9,127.67 L68.2,127.23 L68.5,126.42 L68.8,128.73 L69.1,128.89 L69.4,127.27 L69.7,128.98 L70,129.26 L70.3,127.85 L70.6,128.23 L70.9,128.99 L71.2,129.48 L71.5,129.9 L71.8,129.03 L72.1,127.94 L72.4,130.23 L72.7,130.75 L73,129.22 L73.3,130.28 L73.6,130.34 L73.9,130.48 L74.2,129.8 L74.5,130.6 L74.8,131.36 L75.1,130.09 L75.4,131.4 L75.7,132.02 L76,132.16 L76.3,130.04 L76.6,130.82 L76.9,131.46 L77.2,131.29 L77.5,131.86 L77.8,131.63 L78.1,131.28 L78.4,131.78 L78.7,133.28 L79,134.2 L79.3,133.97 L79.6,134 L79.9,133.3 L80.2,135.45 L80.5,134.42 L80.8,135.23 L81.1,133.49 L81.4,134.71 L81.7,134.73 L82,132.81 L82.3,137.08 L82.6,135.19 L82.9,133.66 L83.2,133.23 L83.5,137.95 L83.8,135.35 L84.1,137.57 L84.4,135.61 L84.7,135.76 L85,135 L85.3,137.25 L85.6,136.55 L85.9,136.41 L86.2,140.22 L86.5,137.91 L86.8,135.42 L87.1,140.04 L87.4,136.91 L87.7,137.74 L88,137.64 L88.3,137.8 L88.6,139.15 L88.9,138.36 L89.2,136.72 L89.5,137.99 L89.8,139.48 L90.1,139 L90.4,138.27 L90.7,141.16 L91,142.38 L91.3,143.14 L91.6,138.22 L91.9,139.77 L92.2,137.91 L92.5,140.09 L92.8,139.61 L93.1,141.04 L93.4,138.81 L93.7,141.85 L94,141.77 L94.3,143.96 L94.6,143.71 L94.9,143.93 L95.2,142.69 L95.5,139.5 L95.8,142.56 L96.1,143.55 L96.4,141.33 L96.7,140.51 L97,145.47 L97.3,145.52 L97.6,143.29 L97.9,142.45 L98.2,153.05 L98.5,143.68 L98.8,144.81 L99.1,144.14 L99.4,149.93 L99.7,144.91 L100,146.57 L100.3,147.87 L100.7,147.74 L101.1,144.3 L101.5,145.81 L101.9,144.57 L102.3,142.31 L102.7,146.84 L103.1,143.92 L103.5,145.7 L103.9,146.8 L104.3,145.94 L104.7,146.54 L105.1,146.25 L105.5,154.45 L105.9,151.77 L106.3,145.67 L106.7,150.39 L107.1,151.16 L107.5,148.95 L107.9,149.94 L108.3,147.92 L108.7,147.5 L109.1,148.55 L109.5,158.3 L109.9,155.13 L110.3,148.09 L110.7,149.27 L111.1,147.57 L111.5,147.52 L111.9,150.73 L112.3,150.94 L112.7,151.97 L113.1,156.5 L113.5,166.36 L113.9,153.53 L114.3,184.84 L114.7,150.07 L115.1,147.95 L115.5,151.76 L115.9,158.45 L116.3,152.49 L116.7,149.77 L117.1,155.06 L117.5,160.23 L117.9,148.42 L118.3,151.03 L118.7,166.84 L119.1,148.78 L119.5,148.82 L119.9,151.22 L120.3,165.58 L120.7,158.53 L121.1,171.58 L121.5,175.45 L121.9,222.5 L122.3,157.69 L122.7,179.55 L123.1,168.74 L123.5,161.03 L123.9,161 L124.3,153.47 L124.7,160.93 L125.1,167.87 L125.5,164.7 L125.9,222.5 L126.3,174 L126.7,169.28 L127.1,162.09 L127.5,186.64 L127.9,222.5 L128.3,222.5 L128.7,150.58 L129.1,186.4 L129.5,152.36 L129.9,164.41 L130.3,222.5 L130.7,155 L131.1,181.47 L131.5,154.02 L131.9,160.54 L132.3,171.06 L132.7,157.63 L133.1,160.35 L133.5,160.9 L133.9,222.5 L134.3,164.74 L134.7,222.5 L135.1,222.5 L135.5,158.42 L135.9,177.41 L136.3,159.59 L136.7,222.5 L137.1,160.3 L137.5,178.83 L137.9,213.1 L138.3,159.12 L138.7,222.5 L139.1,155.71 L139.5,152.95 L139.9,167.19 L140.3,163.94 L140.7,173.43 L141.1,222.5 L141.5,222.5 L141.9,164.79" fill="none" stroke="#0c0c80" stroke-width="1.15" stroke-linejoin="round"/>
<path d="M14.8,210.39 L15.22,212.62 L15.64,215.76 L16.06,216.17 L16.48,198.84 L16.9,206.82 L17.32,207.04 L17.74,211.53 L18.16,197.72 L18.58,203.02 L19,199.77 L19.42,201.53 L19.84,185.03 L20.26,206.6 L20.68,183.99 L21.1,191.09 L21.52,172.74 L21.94,178.06 L22.36,168.23 L22.78,164.29 L23.2,161.12 L23.62,164.8 L24.04,157.78 L24.46,152.69 L24.88,152.3 L25.3,148 L25.6,145.41 L25.9,144.47 L26.2,143.45 L26.5,141.51 L26.8,141.55 L27.1,140.06 L27.4,138.58 L27.7,137.87 L28,136.23 L28.3,137.22 L28.6,134.91 L28.9,134.86 L29.2,134.04 L29.5,132.42 L29.8,131.89 L30.1,132.39 L30.4,131.25 L30.7,131.26 L31,129.85 L31.3,131.3 L31.6,130.53 L31.9,130.22 L32.2,130.34 L32.5,130.15 L32.8,129.58 L33.1,129.45 L33.4,130.2 L33.7,130.5 L34,130.11 L34.3,130.15 L34.6,130.99 L34.9,129.85 L35.2,131.04 L35.5,130.74 L35.8,130.95 L36.1,130.98 L36.4,131.03 L36.7,130.6 L37,131.38 L37.3,131.42 L37.6,130.82 L37.9,130.87 L38.2,131.64 L38.5,131.98 L38.8,131.43 L39.1,132.36 L39.4,132.31 L39.7,132.08 L40,132.98 L40.3,132.36 L40.6,132.35 L40.9,133.11 L41.2,133.21 L41.5,132.27 L41.8,132.9 L42.1,132.46 L42.4,133.54 L42.7,132.4 L43,134.41 L43.3,133.01 L43.6,133.43 L43.9,134.42 L44.2,134.47 L44.5,133.58 L44.8,133.12 L45.1,134.09 L45.4,133.81 L45.7,135.55 L46,135.35 L46.3,135.69 L46.6,135.4 L46.9,134.62 L47.2,136.69 L47.5,134.78 L47.8,136.05 L48.1,137.13 L48.4,135.68 L48.7,135.62 L49,136.77 L49.3,136.55 L49.6,136.08 L49.9,136.05 L50.2,137.01 L50.5,136.18 L50.8,136.2 L51.1,136.27 L51.4,137.3 L51.7,137.14 L52,136.03 L52.3,137.45 L52.6,138.01 L52.9,138.26 L53.2,138.29 L53.5,138.99 L53.8,138.88 L54.1,138.17 L54.4,138.22 L54.7,139.03 L55,138.49 L55.3,138.6 L55.6,138.36 L55.9,138.54 L56.2,138.39 L56.5,139.26 L56.8,139.6 L57.1,140.97 L57.4,141.15 L57.7,139.49 L58,139.88 L58.3,140.41 L58.6,139.61 L58.9,141.84 L59.2,141.26 L59.5,141.12 L59.8,139.45 L60.1,141.94 L60.4,142.53 L60.7,140.77 L61,142.22 L61.3,142.33 L61.6,142.06 L61.9,142.21 L62.2,142.09 L62.5,140.63 L62.8,143.74 L63.1,141.85 L63.4,141.54 L63.7,143.89 L64,143.79 L64.3,143.49 L64.6,143.3 L64.9,143.21 L65.2,144.37 L65.5,143.75 L65.8,144.58 L66.1,143.61 L66.4,144.47 L66.7,142.85 L67,145.03 L67.3,145.57 L67.6,145.79 L67.9,144.65 L68.2,145.45 L68.5,146.37 L68.8,145.63 L69.1,144.88 L69.4,146.28 L69.7,146.93 L70,144.45 L70.3,145.88 L70.6,146.67 L70.9,145.5 L71.2,146.74 L71.5,146.67 L71.8,145.83 L72.1,146.36 L72.4,146.79 L72.7,146.33 L73,147.52 L73.3,147.84 L73.6,148.51 L73.9,148.15 L74.2,147.44 L74.5,147.94 L74.8,149.99 L75.1,148.09 L75.4,148.91 L75.7,151.54 L76,148.78 L76.3,150.34 L76.6,149.85 L76.9,148.92 L77.2,149.19 L77.5,149.76 L77.8,150.68 L78.1,149.66 L78.4,150.84 L78.7,149.94 L79,150.6 L79.3,152.64 L79.6,153.78 L79.9,149.65 L80.2,150.1 L80.5,151.56 L80.8,151.18 L81.1,153.49 L81.4,150.44 L81.7,150.81 L82,153.83 L82.3,153.36 L82.6,154.33 L82.9,154.92 L83.2,153.02 L83.5,154.43 L83.8,152.51 L84.1,153.53 L84.4,152.16 L84.7,154.33 L85,153.77 L85.3,154.64 L85.6,156.09 L85.9,156.55 L86.2,153.77 L86.5,155.37 L86.8,153.97 L87.1,154.8 L87.4,154.85 L87.7,154.13 L88,155.7 L88.3,155.61 L88.6,155.73 L88.9,158.01 L89.2,156.45 L89.5,155.45 L89.8,156.55 L90.1,156.41 L90.4,156.44 L90.7,160.03 L91,157.49 L91.3,156.26 L91.6,158.42 L91.9,156.52 L92.2,155.64 L92.5,160.3 L92.8,160.16 L93.1,163.13 L93.4,156.99 L93.7,163.25 L94,159.05 L94.3,155.96 L94.6,159.77 L94.9,159.62 L95.2,161.88 L95.5,163.7 L95.8,157.31 L96.1,159.08 L96.4,160.82 L96.7,160.66 L97,161.1 L97.3,160.72 L97.6,162.67 L97.9,161.65 L98.2,158.89 L98.5,162.38 L98.8,162.35 L99.1,162.49 L99.4,162.38 L99.7,163.19 L100,160.7 L100.3,162.98 L100.7,156.05 L101.1,159.13 L101.5,166.43 L101.9,167.07 L102.3,163.75 L102.7,165.18 L103.1,161.96 L103.5,164.32 L103.9,160.72 L104.3,173.61 L104.7,161.88 L105.1,168.2 L105.5,161.15 L105.9,167.23 L106.3,172.68 L106.7,166.78 L107.1,168.61 L107.5,171.06 L107.9,170.06 L108.3,160.53 L108.7,172.04 L109.1,171.64 L109.5,168.01 L109.9,172.45 L110.3,169.17 L110.7,171.89 L111.1,167.73 L111.5,174.65 L111.9,173.03 L112.3,167.37 L112.7,172.31 L113.1,170.31 L113.5,173.77 L113.9,195.88 L114.3,166.45 L114.7,178.19 L115.1,166.82 L115.5,173.27 L115.9,166.24 L116.3,174.56 L116.7,170.48 L117.1,169.73 L117.5,197 L117.9,167.31 L118.3,190.98 L118.7,168.52 L119.1,177.83 L119.5,176.53 L119.9,170.53 L120.3,171.64 L120.7,222.5 L121.1,176.91 L121.5,176.92 L121.9,222.5 L122.3,178.08 L122.7,182.8 L123.1,173.47 L123.5,163.71 L123.9,191.42 L124.3,222.5 L124.7,175.11 L125.1,177 L125.5,170.9 L125.9,189.27 L126.3,222.5 L126.7,189.99 L127.1,222.5 L127.5,191.82 L127.9,181.62 L128.3,222.5 L128.7,181.96 L129.1,182.27 L129.5,177.01 L129.9,171.99 L130.3,167.66 L130.7,183.62 L131.1,186.66 L131.5,185.81 L131.9,178.26 L132.3,182.35 L132.7,171.86 L133.1,166.52 L133.5,176.9 L133.9,184.94 L134.3,179.45 L134.7,182.93 L135.1,170.21 L135.5,171.01 L135.9,179.38 L136.3,179.96 L136.7,222.5 L137.1,184.67 L137.5,178.6 L137.9,185.44 L138.3,222.5 L138.7,222.5 L139.1,174.43 L139.5,188.79 L139.9,194.61 L140.3,222.5 L140.7,218.14 L141.1,176.28 L141.5,182.84 L141.9,202" fill="none" stroke="#090961" stroke-width="1.15" stroke-linejoin="round"/>
<path d="M14.8,218.09 L15.22,217.24 L15.64,216.47 L16.06,217.15 L16.48,214.48 L16.9,222.5 L17.32,216.26 L17.74,222.5 L18.16,217.38 L18.58,221.12 L19,213.75 L19.42,213.36 L19.84,197.31 L20.26,191.4 L20.68,198.56 L21.1,188.53 L21.52,222.5 L21.94,194.39 L22.36,200.81 L22.78,181.34 L23.2,176.4 L23.62,173.46 L24.04,168.32 L24.46,171.83 L24.88,164.04 L25.3,159.93 L25.6,160.99 L25.9,158.59 L26.2,157.08 L26.5,155.94 L26.8,155.78 L27.1,154.27 L27.4,153.93 L27.7,151.05 L28,150.24 L28.3,149.86 L28.6,148.62 L28.9,148.97 L29.2,147.77 L29.5,147.47 L29.8,146.17 L30.1,145.87 L30.4,146.42 L30.7,145.35 L31,146.42 L31.3,145.43 L31.6,143.85 L31.9,144.83 L32.2,145.45 L32.5,144.86 L32.8,145.06 L33.1,144.67 L33.4,145.06 L33.7,144.76 L34,144.59 L34.3,145.4 L34.6,145 L34.9,143.93 L35.2,146.79 L35.5,145.63 L35.8,145.71 L36.1,145.82 L36.4,146.71 L36.7,146.04 L37,146.05 L37.3,147.47 L37.6,146.27 L37.9,147.17 L38.2,146.88 L38.5,146.66 L38.8,147.29 L39.1,146.38 L39.4,147.61 L39.7,146.06 L40,148.32 L40.3,148.3 L40.6,148.49 L40.9,147.78 L41.2,148.06 L41.5,147.78 L41.8,147.67 L42.1,147.85 L42.4,149.14 L42.7,149.41 L43,149.7 L43.3,148.83 L43.6,148.65 L43.9,149.23 L44.2,149.58 L44.5,149.66 L44.8,150.2 L45.1,149.71 L45.4,149.94 L45.7,150.9 L46,151.73 L46.3,151.39 L46.6,150.07 L46.9,151.37 L47.2,149.86 L47.5,152.17 L47.8,151.92 L48.1,153.06 L48.4,150.81 L48.7,152.51 L49,152.28 L49.3,152.73 L49.6,153.15 L49.9,152.45 L50.2,154.1 L50.5,153.13 L50.8,153.36 L51.1,152.07 L51.4,153.83 L51.7,153.15 L52,154.34 L52.3,154.19 L52.6,154.03 L52.9,154.36 L53.2,154.92 L53.5,154.7 L53.8,155.13 L54.1,155.31 L54.4,154.67 L54.7,155.76 L55,156.19 L55.3,155.24 L55.6,154.56 L55.9,154.95 L56.2,155.2 L56.5,155.56 L56.8,156.43 L57.1,157.98 L57.4,155.92 L57.7,155.48 L58,154.6 L58.3,155.97 L58.6,157.26 L58.9,158.35 L59.2,157.32 L59.5,157.25 L59.8,157.91 L60.1,157.65 L60.4,158.65 L60.7,157.24 L61,160.05 L61.3,159.5 L61.6,159.31 L61.9,157.94 L62.2,159.63 L62.5,158.68 L62.8,158.71 L63.1,159.95 L63.4,159.83 L63.7,161.19 L64,161.4 L64.3,160.35 L64.6,158.47 L64.9,160.34 L65.2,159.97 L65.5,161.54 L65.8,160.45 L66.1,160.4 L66.4,161.46 L66.7,159.45 L67,160.91 L67.3,160.48 L67.6,161.27 L67.9,161.81 L68.2,162.28 L68.5,161.8 L68.8,162.52 L69.1,163.02 L69.4,163.11 L69.7,162.28 L70,163.83 L70.3,162.52 L70.6,162.67 L70.9,163.29 L71.2,162.78 L71.5,163.14 L71.8,163.13 L72.1,163.21 L72.4,163.05 L72.7,163.56 L73,164.12 L73.3,163.82 L73.6,164.06 L73.9,164.36 L74.2,162.21 L74.5,163.87 L74.8,166.61 L75.1,165.45 L75.4,166.28 L75.7,164.96 L76,165.79 L76.3,165.77 L76.6,166.09 L76.9,165.36 L77.2,166.08 L77.5,166.91 L77.8,167 L78.1,166.05 L78.4,167.81 L78.7,168.64 L79,167.94 L79.3,167.31 L79.6,166.72 L79.9,168.28 L80.2,170.51 L80.5,167.75 L80.8,167.3 L81.1,167.28 L81.4,166.62 L81.7,169.21 L82,167.57 L82.3,168.27 L82.6,173.06 L82.9,170.82 L83.2,168.69 L83.5,167.08 L83.8,166.06 L84.1,169.7 L84.4,168.7 L84.7,169.08 L85,169.2 L85.3,168.34 L85.6,170.75 L85.9,168.84 L86.2,171.55 L86.5,170.97 L86.8,170.53 L87.1,168.8 L87.4,172.02 L87.7,171.26 L88,171.36 L88.3,171.09 L88.6,171.39 L88.9,175.31 L89.2,175.78 L89.5,174.28 L89.8,173.16 L90.1,169.78 L90.4,173.7 L90.7,173.63 L91,177.26 L91.3,171.86 L91.6,175.35 L91.9,172.05 L92.2,175.83 L92.5,172.43 L92.8,171.14 L93.1,173.29 L93.4,172.78 L93.7,175.76 L94,175.27 L94.3,174.95 L94.6,173.04 L94.9,176.58 L95.2,172.08 L95.5,172.11 L95.8,175.73 L96.1,172.42 L96.4,178.89 L96.7,177.96 L97,174.37 L97.3,173.73 L97.6,176.22 L97.9,173.32 L98.2,175.97 L98.5,172.98 L98.8,174.78 L99.1,173.83 L99.4,176.89 L99.7,178.07 L100,179.16 L100.3,180.09 L100.7,174.47 L101.1,185.8 L101.5,182.99 L101.9,178.11 L102.3,178.32 L102.7,175.55 L103.1,173.07 L103.5,178.67 L103.9,177.15 L104.3,179.69 L104.7,179.69 L105.1,178.23 L105.5,176.15 L105.9,175.41 L106.3,180.83 L106.7,181.39 L107.1,177.68 L107.5,177.09 L107.9,182.47 L108.3,177.28 L108.7,177.18 L109.1,176.48 L109.5,184.01 L109.9,181.3 L110.3,180.44 L110.7,181.4 L111.1,180.16 L111.5,181.93 L111.9,178.82 L112.3,179.78 L112.7,181.73 L113.1,184.12 L113.5,182.53 L113.9,183.87 L114.3,197.01 L114.7,180.5 L115.1,188.81 L115.5,182.25 L115.9,181.98 L116.3,184.18 L116.7,189.4 L117.1,179.93 L117.5,181.31 L117.9,193.3 L118.3,184.72 L118.7,186.38 L119.1,186.71 L119.5,194.36 L119.9,183.86 L120.3,185.13 L120.7,219.34 L121.1,195.41 L121.5,186.68 L121.9,186.45 L122.3,188.16 L122.7,177.04 L123.1,182.88 L123.5,186.48 L123.9,190.57 L124.3,183.38 L124.7,222.5 L125.1,193.41 L125.5,191.23 L125.9,193.97 L126.3,185.03 L126.7,188.25 L127.1,222.5 L127.5,205.24 L127.9,183.39 L128.3,191.36 L128.7,193.25 L129.1,201.07 L129.5,183.63 L129.9,184.48 L130.3,188.02 L130.7,177.84 L131.1,192.34 L131.5,183.48 L131.9,203.95 L132.3,200.86 L132.7,193.59 L133.1,183.45 L133.5,184.51 L133.9,187.2 L134.3,178.65 L134.7,184.03 L135.1,195.35 L135.5,194.96 L135.9,182.94 L136.3,181.62 L136.7,195.38 L137.1,203.97 L137.5,187.02 L137.9,190.93 L138.3,202.82 L138.7,197.32 L139.1,202.23 L139.5,222.5 L139.9,196.6 L140.3,186.33 L140.7,194.1 L141.1,194.61 L141.5,187.34 L141.9,186.71" fill="none" stroke="#05053b" stroke-width="1.15" stroke-linejoin="round"/>
<path d="M14.8,222.5 L15.22,222.5 L15.64,222.5 L16.06,222.5 L16.48,222.5 L16.9,222.5 L17.32,222.5 L17.74,222.5 L18.16,222.5 L18.58,222.5 L19,222.5 L19.42,222.5 L19.84,222.5 L20.26,222.5 L20.68,222.5 L21.1,219.11 L21.52,210.39 L21.94,209.38 L22.36,200.86 L22.78,199.47 L23.2,195.24 L23.62,191.3 L24.04,189.28 L24.46,185.05 L24.88,183.21 L25.3,180.45 L25.6,178.05 L25.9,176.34 L26.2,175.52 L26.5,173.59 L26.8,172.67 L27.1,172.24 L27.4,170.87 L27.7,168.4 L28,167.14 L28.3,167.7 L28.6,166.63 L28.9,165.8 L29.2,165.42 L29.5,165.74 L29.8,163.95 L30.1,164.88 L30.4,163.93 L30.7,163.01 L31,162.79 L31.3,162.22 L31.6,163.44 L31.9,162.79 L32.2,162.71 L32.5,162.01 L32.8,162.68 L33.1,161.79 L33.4,162.05 L33.7,161.76 L34,161.85 L34.3,162.13 L34.6,162.71 L34.9,161.4 L35.2,162.53 L35.5,162.57 L35.8,162.48 L36.1,163.14 L36.4,162.37 L36.7,162.56 L37,162.55 L37.3,162.2 L37.6,162.77 L37.9,162.74 L38.2,161.55 L38.5,164.49 L38.8,163.65 L39.1,164.94 L39.4,164 L39.7,164.47 L40,163.41 L40.3,164.87 L40.6,164.86 L40.9,164.3 L41.2,165.23 L41.5,164.67 L41.8,165.22 L42.1,165.65 L42.4,165.03 L42.7,166.84 L43,165.7 L43.3,165.72 L43.6,165.91 L43.9,165.79 L44.2,166.16 L44.5,166.41 L44.8,166.14 L45.1,166.67 L45.4,167.74 L45.7,166.7 L46,168.18 L46.3,166.98 L46.6,167.36 L46.9,168.07 L47.2,167.4 L47.5,168.05 L47.8,168.25 L48.1,168.13 L48.4,168.55 L48.7,168.3 L49,168.44 L49.3,167.66 L49.6,169.18 L49.9,168.89 L50.2,167.73 L50.5,167.73 L50.8,169.28 L51.1,169.64 L51.4,169.02 L51.7,169.41 L52,169.64 L52.3,170.9 L52.6,170.16 L52.9,170.09 L53.2,169.95 L53.5,170.62 L53.8,170.2 L54.1,171.33 L54.4,172.3 L54.7,170.03 L55,171.14 L55.3,169.75 L55.6,171.35 L55.9,172.22 L56.2,172.67 L56.5,172.52 L56.8,172.45 L57.1,173.12 L57.4,173.31 L57.7,172.79 L58,172.09 L58.3,172.61 L58.6,173.73 L58.9,172.72 L59.2,173.26 L59.5,175.35 L59.8,173.55 L60.1,174.38 L60.4,173.96 L60.7,174.63 L61,173.09 L61.3,175.46 L61.6,174.76 L61.9,175.54 L62.2,175.24 L62.5,175.22 L62.8,175.26 L63.1,175.31 L63.4,176.03 L63.7,175.36 L64,174.67 L64.3,176.74 L64.6,177.11 L64.9,177.56 L65.2,176.17 L65.5,178.13 L65.8,177.6 L66.1,177.14 L66.4,177.96 L66.7,178.18 L67,179.11 L67.3,178.44 L67.6,178.46 L67.9,178.03 L68.2,179.62 L68.5,178.86 L68.8,179.46 L69.1,181.09 L69.4,178.64 L69.7,179.91 L70,180.63 L70.3,180.43 L70.6,181.51 L70.9,181.05 L71.2,181.67 L71.5,179.36 L71.8,181.68 L72.1,181.75 L72.4,180.69 L72.7,181.95 L73,181.81 L73.3,181.59 L73.6,180.57 L73.9,181.68 L74.2,182.64 L74.5,182.58 L74.8,182.61 L75.1,183.56 L75.4,183.02 L75.7,183.34 L76,184.63 L76.3,184.46 L76.6,183.19 L76.9,185.28 L77.2,184.03 L77.5,184.5 L77.8,184.87 L78.1,184.33 L78.4,184.39 L78.7,184.14 L79,185.21 L79.3,186.27 L79.6,187.24 L79.9,185.7 L80.2,186.55 L80.5,188.68 L80.8,187.98 L81.1,185.87 L81.4,187.22 L81.7,188.05 L82,186.5 L82.3,186.98 L82.6,188.26 L82.9,188.77 L83.2,188.1 L83.5,187.25 L83.8,188.86 L84.1,189.41 L84.4,191.21 L84.7,186.77 L85,190.68 L85.3,189.37 L85.6,188.48 L85.9,189.58 L86.2,188.1 L86.5,187.78 L86.8,189.55 L87.1,189.83 L87.4,189.64 L87.7,192.5 L88,192.1 L88.3,190.93 L88.6,191.3 L88.9,190.61 L89.2,193.63 L89.5,191.57 L89.8,195.39 L90.1,194.1 L90.4,197.08 L90.7,192.63 L91,193.52 L91.3,195.15 L91.6,193.32 L91.9,193.6 L92.2,197.15 L92.5,193.57 L92.8,195.45 L93.1,194.08 L93.4,193.99 L93.7,195.66 L94,194.76 L94.3,197.38 L94.6,193.34 L94.9,197.5 L95.2,192.41 L95.5,198.81 L95.8,197.09 L96.1,201.48 L96.4,199.85 L96.7,198.47 L97,199.28 L97.3,195.25 L97.6,195.52 L97.9,194.36 L98.2,195.74 L98.5,199.94 L98.8,196.52 L99.1,197.45 L99.4,203.85 L99.7,196.76 L100,196.22 L100.3,201.28 L100.7,201.11 L101.1,201.31 L101.5,205.86 L101.9,198.93 L102.3,203.21 L102.7,200.02 L103.1,196.29 L103.5,202.34 L103.9,206.33 L104.3,200.71 L104.7,208.08 L105.1,200.69 L105.5,198.87 L105.9,222.28 L106.3,198.84 L106.7,202.01 L107.1,204.04 L107.5,219.32 L107.9,208.16 L108.3,203.7 L108.7,211.01 L109.1,204.26 L109.5,204.8 L109.9,209.71 L110.3,204.44 L110.7,222.5 L111.1,206.89 L111.5,206.29 L111.9,212.99 L112.3,222.5 L112.7,210.77 L113.1,205.56 L113.5,222.5 L113.9,213.62 L114.3,204.4 L114.7,208.1 L115.1,210.44 L115.5,207.53 L115.9,221.16 L116.3,205.55 L116.7,217.15 L117.1,207.7 L117.5,207.54 L117.9,222.5 L118.3,222.5 L118.7,222.5 L119.1,217.05 L119.5,207.86 L119.9,218.08 L120.3,219.28 L120.7,212.23 L121.1,221.23 L121.5,215.22 L121.9,211.58 L122.3,211.54 L122.7,222.5 L123.1,210.13 L123.5,209.31 L123.9,217.36 L124.3,213.72 L124.7,222.5 L125.1,211.47 L125.5,214.96 L125.9,222.5 L126.3,218.47 L126.7,222.5 L127.1,210.21 L127.5,222.5 L127.9,222.5 L128.3,220.84 L128.7,208 L129.1,222.5 L129.5,221.39 L129.9,222.5 L130.3,222.5 L130.7,222.5 L131.1,222.5 L131.5,222.5 L131.9,222.5 L132.3,216.89 L132.7,213.06 L133.1,208.74 L133.5,220.21 L133.9,219.64 L134.3,222.5 L134.7,222.5 L135.1,212.83 L135.5,222.5 L135.9,222.5 L136.3,222.5 L136.7,208.54 L137.1,222.5 L137.5,212.21 L137.9,222.5 L138.3,214.76 L138.7,211.19 L139.1,222.11 L139.5,222.09 L139.9,222.5 L140.3,222.5 L140.7,215.65 L141.1,222.5 L141.5,222.5 L141.9,214.14" fill="none" stroke="#000000" stroke-width="1.15" stroke-linejoin="round"/>
</g>
<text x="57" y="32.8" font-size="7.9" fill="#000" color="#000" color="#000" transform="rotate(20 57 32.8)">4 K</text>
<text x="57" y="49.9" font-size="7.9" fill="#000" color="#000" color="#000" transform="rotate(20 57 49.9)">20 K</text>
<text x="57" y="67.1" font-size="7.9" fill="#000" color="#000" color="#000" transform="rotate(20 57 67.1)">60 K</text>
<text x="57" y="83.4" font-size="7.9" fill="#000" color="#000" color="#000" transform="rotate(20 57 83.4)">100 K</text>
<text x="57" y="100.5" font-size="7.9" fill="#000" color="#000" color="#000" transform="rotate(20 57 100.5)">140 K</text>
<text x="57" y="117.6" font-size="7.9" fill="#000" color="#000" color="#000" transform="rotate(20 57 117.6)">180 K</text>
<text x="57" y="134.8" font-size="7.9" fill="#000" color="#000" color="#000" transform="rotate(20 57 134.8)">220 K</text>
<text x="57" y="154.2" font-size="7.9" fill="#000" color="#000" color="#000" transform="rotate(20 57 154.2)">260 K</text>
<text x="55.9" y="169.6" font-size="7.9" fill="#000" color="#000" color="#000" transform="rotate(20 55.9 169.6)">300 K</text>
<rect x="14.6" y="15.7" width="127.6" height="200.8" fill="none" stroke="#333" stroke-width="1.1"/>
<line x1="20.6" y1="216.5" x2="20.6" y2="211.9" stroke="#333" stroke-width="0.9" />
<line x1="20.6" y1="15.7" x2="20.6" y2="20.3" stroke="#333" stroke-width="0.9" />
<line x1="48.15" y1="216.5" x2="48.15" y2="211.9" stroke="#333" stroke-width="0.9" />
<line x1="48.15" y1="15.7" x2="48.15" y2="20.3" stroke="#333" stroke-width="0.9" />
<line x1="75.7" y1="216.5" x2="75.7" y2="211.9" stroke="#333" stroke-width="0.9" />
<line x1="75.7" y1="15.7" x2="75.7" y2="20.3" stroke="#333" stroke-width="0.9" />
<line x1="103.25" y1="216.5" x2="103.25" y2="211.9" stroke="#333" stroke-width="0.9" />
<line x1="103.25" y1="15.7" x2="103.25" y2="20.3" stroke="#333" stroke-width="0.9" />
<line x1="130.8" y1="216.5" x2="130.8" y2="211.9" stroke="#333" stroke-width="0.9" />
<line x1="130.8" y1="15.7" x2="130.8" y2="20.3" stroke="#333" stroke-width="0.9" />
<line x1="34.38" y1="216.5" x2="34.38" y2="214.1" stroke="#333" stroke-width="0.9" />
<line x1="34.38" y1="15.7" x2="34.38" y2="18.1" stroke="#333" stroke-width="0.9" />
<line x1="61.93" y1="216.5" x2="61.93" y2="214.1" stroke="#333" stroke-width="0.9" />
<line x1="61.93" y1="15.7" x2="61.93" y2="18.1" stroke="#333" stroke-width="0.9" />
<line x1="89.47" y1="216.5" x2="89.47" y2="214.1" stroke="#333" stroke-width="0.9" />
<line x1="89.47" y1="15.7" x2="89.47" y2="18.1" stroke="#333" stroke-width="0.9" />
<line x1="117.03" y1="216.5" x2="117.03" y2="214.1" stroke="#333" stroke-width="0.9" />
<line x1="117.03" y1="15.7" x2="117.03" y2="18.1" stroke="#333" stroke-width="0.9" />
<line x1="14.6" y1="24.2" x2="19.6" y2="24.2" stroke="#333" stroke-width="0.9" />
<line x1="142.2" y1="24.2" x2="137.2" y2="24.2" stroke="#333" stroke-width="0.9" />
<line x1="14.6" y1="52" x2="19.6" y2="52" stroke="#333" stroke-width="0.9" />
<line x1="142.2" y1="52" x2="137.2" y2="52" stroke="#333" stroke-width="0.9" />
<line x1="14.6" y1="79.8" x2="19.6" y2="79.8" stroke="#333" stroke-width="0.9" />
<line x1="142.2" y1="79.8" x2="137.2" y2="79.8" stroke="#333" stroke-width="0.9" />
<line x1="14.6" y1="107.6" x2="19.6" y2="107.6" stroke="#333" stroke-width="0.9" />
<line x1="142.2" y1="107.6" x2="137.2" y2="107.6" stroke="#333" stroke-width="0.9" />
<line x1="14.6" y1="135.4" x2="19.6" y2="135.4" stroke="#333" stroke-width="0.9" />
<line x1="142.2" y1="135.4" x2="137.2" y2="135.4" stroke="#333" stroke-width="0.9" />
<line x1="14.6" y1="163.2" x2="19.6" y2="163.2" stroke="#333" stroke-width="0.9" />
<line x1="142.2" y1="163.2" x2="137.2" y2="163.2" stroke="#333" stroke-width="0.9" />
<line x1="14.6" y1="191" x2="19.6" y2="191" stroke="#333" stroke-width="0.9" />
<line x1="142.2" y1="191" x2="137.2" y2="191" stroke="#333" stroke-width="0.9" />
<line x1="14.6" y1="43.63" x2="17" y2="43.63" stroke="#333" stroke-width="0.9" />
<line x1="142.2" y1="43.63" x2="139.8" y2="43.63" stroke="#333" stroke-width="0.9" />
<line x1="14.6" y1="38.74" x2="17" y2="38.74" stroke="#333" stroke-width="0.9" />
<line x1="142.2" y1="38.74" x2="139.8" y2="38.74" stroke="#333" stroke-width="0.9" />
<line x1="14.6" y1="35.26" x2="17" y2="35.26" stroke="#333" stroke-width="0.9" />
<line x1="142.2" y1="35.26" x2="139.8" y2="35.26" stroke="#333" stroke-width="0.9" />
<line x1="14.6" y1="32.57" x2="17" y2="32.57" stroke="#333" stroke-width="0.9" />
<line x1="142.2" y1="32.57" x2="139.8" y2="32.57" stroke="#333" stroke-width="0.9" />
<line x1="14.6" y1="30.37" x2="17" y2="30.37" stroke="#333" stroke-width="0.9" />
<line x1="142.2" y1="30.37" x2="139.8" y2="30.37" stroke="#333" stroke-width="0.9" />
<line x1="14.6" y1="28.51" x2="17" y2="28.51" stroke="#333" stroke-width="0.9" />
<line x1="142.2" y1="28.51" x2="139.8" y2="28.51" stroke="#333" stroke-width="0.9" />
<line x1="14.6" y1="26.89" x2="17" y2="26.89" stroke="#333" stroke-width="0.9" />
<line x1="142.2" y1="26.89" x2="139.8" y2="26.89" stroke="#333" stroke-width="0.9" />
<line x1="14.6" y1="25.47" x2="17" y2="25.47" stroke="#333" stroke-width="0.9" />
<line x1="142.2" y1="25.47" x2="139.8" y2="25.47" stroke="#333" stroke-width="0.9" />
<line x1="14.6" y1="71.43" x2="17" y2="71.43" stroke="#333" stroke-width="0.9" />
<line x1="142.2" y1="71.43" x2="139.8" y2="71.43" stroke="#333" stroke-width="0.9" />
<line x1="14.6" y1="66.54" x2="17" y2="66.54" stroke="#333" stroke-width="0.9" />
<line x1="142.2" y1="66.54" x2="139.8" y2="66.54" stroke="#333" stroke-width="0.9" />
<line x1="14.6" y1="63.06" x2="17" y2="63.06" stroke="#333" stroke-width="0.9" />
<line x1="142.2" y1="63.06" x2="139.8" y2="63.06" stroke="#333" stroke-width="0.9" />
<line x1="14.6" y1="60.37" x2="17" y2="60.37" stroke="#333" stroke-width="0.9" />
<line x1="142.2" y1="60.37" x2="139.8" y2="60.37" stroke="#333" stroke-width="0.9" />
<line x1="14.6" y1="58.17" x2="17" y2="58.17" stroke="#333" stroke-width="0.9" />
<line x1="142.2" y1="58.17" x2="139.8" y2="58.17" stroke="#333" stroke-width="0.9" />
<line x1="14.6" y1="56.31" x2="17" y2="56.31" stroke="#333" stroke-width="0.9" />
<line x1="142.2" y1="56.31" x2="139.8" y2="56.31" stroke="#333" stroke-width="0.9" />
<line x1="14.6" y1="54.69" x2="17" y2="54.69" stroke="#333" stroke-width="0.9" />
<line x1="142.2" y1="54.69" x2="139.8" y2="54.69" stroke="#333" stroke-width="0.9" />
<line x1="14.6" y1="53.27" x2="17" y2="53.27" stroke="#333" stroke-width="0.9" />
<line x1="142.2" y1="53.27" x2="139.8" y2="53.27" stroke="#333" stroke-width="0.9" />
<line x1="14.6" y1="99.23" x2="17" y2="99.23" stroke="#333" stroke-width="0.9" />
<line x1="142.2" y1="99.23" x2="139.8" y2="99.23" stroke="#333" stroke-width="0.9" />
<line x1="14.6" y1="94.34" x2="17" y2="94.34" stroke="#333" stroke-width="0.9" />
<line x1="142.2" y1="94.34" x2="139.8" y2="94.34" stroke="#333" stroke-width="0.9" />
<line x1="14.6" y1="90.86" x2="17" y2="90.86" stroke="#333" stroke-width="0.9" />
<line x1="142.2" y1="90.86" x2="139.8" y2="90.86" stroke="#333" stroke-width="0.9" />
<line x1="14.6" y1="88.17" x2="17" y2="88.17" stroke="#333" stroke-width="0.9" />
<line x1="142.2" y1="88.17" x2="139.8" y2="88.17" stroke="#333" stroke-width="0.9" />
<line x1="14.6" y1="85.97" x2="17" y2="85.97" stroke="#333" stroke-width="0.9" />
<line x1="142.2" y1="85.97" x2="139.8" y2="85.97" stroke="#333" stroke-width="0.9" />
<line x1="14.6" y1="84.11" x2="17" y2="84.11" stroke="#333" stroke-width="0.9" />
<line x1="142.2" y1="84.11" x2="139.8" y2="84.11" stroke="#333" stroke-width="0.9" />
<line x1="14.6" y1="82.49" x2="17" y2="82.49" stroke="#333" stroke-width="0.9" />
<line x1="142.2" y1="82.49" x2="139.8" y2="82.49" stroke="#333" stroke-width="0.9" />
<line x1="14.6" y1="81.07" x2="17" y2="81.07" stroke="#333" stroke-width="0.9" />
<line x1="142.2" y1="81.07" x2="139.8" y2="81.07" stroke="#333" stroke-width="0.9" />
<line x1="14.6" y1="127.03" x2="17" y2="127.03" stroke="#333" stroke-width="0.9" />
<line x1="142.2" y1="127.03" x2="139.8" y2="127.03" stroke="#333" stroke-width="0.9" />
<line x1="14.6" y1="122.14" x2="17" y2="122.14" stroke="#333" stroke-width="0.9" />
<line x1="142.2" y1="122.14" x2="139.8" y2="122.14" stroke="#333" stroke-width="0.9" />
<line x1="14.6" y1="118.66" x2="17" y2="118.66" stroke="#333" stroke-width="0.9" />
<line x1="142.2" y1="118.66" x2="139.8" y2="118.66" stroke="#333" stroke-width="0.9" />
<line x1="14.6" y1="115.97" x2="17" y2="115.97" stroke="#333" stroke-width="0.9" />
<line x1="142.2" y1="115.97" x2="139.8" y2="115.97" stroke="#333" stroke-width="0.9" />
<line x1="14.6" y1="113.77" x2="17" y2="113.77" stroke="#333" stroke-width="0.9" />
<line x1="142.2" y1="113.77" x2="139.8" y2="113.77" stroke="#333" stroke-width="0.9" />
<line x1="14.6" y1="111.91" x2="17" y2="111.91" stroke="#333" stroke-width="0.9" />
<line x1="142.2" y1="111.91" x2="139.8" y2="111.91" stroke="#333" stroke-width="0.9" />
<line x1="14.6" y1="110.29" x2="17" y2="110.29" stroke="#333" stroke-width="0.9" />
<line x1="142.2" y1="110.29" x2="139.8" y2="110.29" stroke="#333" stroke-width="0.9" />
<line x1="14.6" y1="108.87" x2="17" y2="108.87" stroke="#333" stroke-width="0.9" />
<line x1="142.2" y1="108.87" x2="139.8" y2="108.87" stroke="#333" stroke-width="0.9" />
<line x1="14.6" y1="154.83" x2="17" y2="154.83" stroke="#333" stroke-width="0.9" />
<line x1="142.2" y1="154.83" x2="139.8" y2="154.83" stroke="#333" stroke-width="0.9" />
<line x1="14.6" y1="149.94" x2="17" y2="149.94" stroke="#333" stroke-width="0.9" />
<line x1="142.2" y1="149.94" x2="139.8" y2="149.94" stroke="#333" stroke-width="0.9" />
<line x1="14.6" y1="146.46" x2="17" y2="146.46" stroke="#333" stroke-width="0.9" />
<line x1="142.2" y1="146.46" x2="139.8" y2="146.46" stroke="#333" stroke-width="0.9" />
<line x1="14.6" y1="143.77" x2="17" y2="143.77" stroke="#333" stroke-width="0.9" />
<line x1="142.2" y1="143.77" x2="139.8" y2="143.77" stroke="#333" stroke-width="0.9" />
<line x1="14.6" y1="141.57" x2="17" y2="141.57" stroke="#333" stroke-width="0.9" />
<line x1="142.2" y1="141.57" x2="139.8" y2="141.57" stroke="#333" stroke-width="0.9" />
<line x1="14.6" y1="139.71" x2="17" y2="139.71" stroke="#333" stroke-width="0.9" />
<line x1="142.2" y1="139.71" x2="139.8" y2="139.71" stroke="#333" stroke-width="0.9" />
<line x1="14.6" y1="138.09" x2="17" y2="138.09" stroke="#333" stroke-width="0.9" />
<line x1="142.2" y1="138.09" x2="139.8" y2="138.09" stroke="#333" stroke-width="0.9" />
<line x1="14.6" y1="136.67" x2="17" y2="136.67" stroke="#333" stroke-width="0.9" />
<line x1="142.2" y1="136.67" x2="139.8" y2="136.67" stroke="#333" stroke-width="0.9" />
<line x1="14.6" y1="182.63" x2="17" y2="182.63" stroke="#333" stroke-width="0.9" />
<line x1="142.2" y1="182.63" x2="139.8" y2="182.63" stroke="#333" stroke-width="0.9" />
<line x1="14.6" y1="177.74" x2="17" y2="177.74" stroke="#333" stroke-width="0.9" />
<line x1="142.2" y1="177.74" x2="139.8" y2="177.74" stroke="#333" stroke-width="0.9" />
<line x1="14.6" y1="174.26" x2="17" y2="174.26" stroke="#333" stroke-width="0.9" />
<line x1="142.2" y1="174.26" x2="139.8" y2="174.26" stroke="#333" stroke-width="0.9" />
<line x1="14.6" y1="171.57" x2="17" y2="171.57" stroke="#333" stroke-width="0.9" />
<line x1="142.2" y1="171.57" x2="139.8" y2="171.57" stroke="#333" stroke-width="0.9" />
<line x1="14.6" y1="169.37" x2="17" y2="169.37" stroke="#333" stroke-width="0.9" />
<line x1="142.2" y1="169.37" x2="139.8" y2="169.37" stroke="#333" stroke-width="0.9" />
<line x1="14.6" y1="167.51" x2="17" y2="167.51" stroke="#333" stroke-width="0.9" />
<line x1="142.2" y1="167.51" x2="139.8" y2="167.51" stroke="#333" stroke-width="0.9" />
<line x1="14.6" y1="165.89" x2="17" y2="165.89" stroke="#333" stroke-width="0.9" />
<line x1="142.2" y1="165.89" x2="139.8" y2="165.89" stroke="#333" stroke-width="0.9" />
<line x1="14.6" y1="164.47" x2="17" y2="164.47" stroke="#333" stroke-width="0.9" />
<line x1="142.2" y1="164.47" x2="139.8" y2="164.47" stroke="#333" stroke-width="0.9" />
<line x1="14.6" y1="210.43" x2="17" y2="210.43" stroke="#333" stroke-width="0.9" />
<line x1="142.2" y1="210.43" x2="139.8" y2="210.43" stroke="#333" stroke-width="0.9" />
<line x1="14.6" y1="205.54" x2="17" y2="205.54" stroke="#333" stroke-width="0.9" />
<line x1="142.2" y1="205.54" x2="139.8" y2="205.54" stroke="#333" stroke-width="0.9" />
<line x1="14.6" y1="202.06" x2="17" y2="202.06" stroke="#333" stroke-width="0.9" />
<line x1="142.2" y1="202.06" x2="139.8" y2="202.06" stroke="#333" stroke-width="0.9" />
<line x1="14.6" y1="199.37" x2="17" y2="199.37" stroke="#333" stroke-width="0.9" />
<line x1="142.2" y1="199.37" x2="139.8" y2="199.37" stroke="#333" stroke-width="0.9" />
<line x1="14.6" y1="197.17" x2="17" y2="197.17" stroke="#333" stroke-width="0.9" />
<line x1="142.2" y1="197.17" x2="139.8" y2="197.17" stroke="#333" stroke-width="0.9" />
<line x1="14.6" y1="195.31" x2="17" y2="195.31" stroke="#333" stroke-width="0.9" />
<line x1="142.2" y1="195.31" x2="139.8" y2="195.31" stroke="#333" stroke-width="0.9" />
<line x1="14.6" y1="193.69" x2="17" y2="193.69" stroke="#333" stroke-width="0.9" />
<line x1="142.2" y1="193.69" x2="139.8" y2="193.69" stroke="#333" stroke-width="0.9" />
<line x1="14.6" y1="192.27" x2="17" y2="192.27" stroke="#333" stroke-width="0.9" />
<line x1="142.2" y1="192.27" x2="139.8" y2="192.27" stroke="#333" stroke-width="0.9" />
<text x="20.6" y="227.9" font-size="8.5" text-anchor="middle" fill="#000" color="#000" >11.0</text>
<text x="48.15" y="227.9" font-size="8.5" text-anchor="middle" fill="#000" color="#000" >11.5</text>
<text x="75.7" y="227.9" font-size="8.5" text-anchor="middle" fill="#000" color="#000" >12.0</text>
<text x="103.25" y="227.9" font-size="8.5" text-anchor="middle" fill="#000" color="#000" >12.5</text>
<text x="130.8" y="227.9" font-size="8.5" text-anchor="middle" fill="#000" color="#000" >13.0</text>
<text x="78" y="241.8" font-size="8.9" text-anchor="middle" fill="#000" color="#000" >Delay (ns)</text>
<text x="0" y="0" font-size="9.3" text-anchor="middle" fill="#000" color="#000" transform="translate(7.1 116.3) rotate(-90)">Normalized intensity</text>
<rect x="187.4" y="21.1" width="81.6" height="81.4" fill="url(#semg)"/>
<polygon points="189.2,91.6 194.6,86.4 200,81.2 209,72.2 218.4,63 226,55 233,47.4 239.5,40.5 243.4,36.2 245,32.4 246.2,29.4 248.3,26.3 251.8,23.9 255.7,23 259.6,23.9 262,26.6 263.2,30.5 262.7,34.4 260.4,37.6 256.6,41.2 250.2,47.2 244,53.7 235.6,62.5 226,72.6 219.5,79.4 215.4,83.6 211.2,87.3 207.6,91 204,95.3 200.3,99.6" fill="url(#wireg)"/>
<ellipse cx="255.5" cy="32" rx="6.2" ry="7.6" transform="rotate(44 255.5 32)" fill="#7e7e7e" opacity="0.75"/>
<polyline points="262,26.6 263.2,30.5 262.7,34.4 260.4,37.6 256.6,41.2 250.2,47.2 244,53.7 235.6,62.5 226,72.6 219.5,79.4 215.4,83.6 211.2,87.3 207.6,91 204,95.3 200.3,99.6" fill="none" stroke="#939393" stroke-width="1.7" stroke-linejoin="round"/>
<polyline points="189.2,91.6 194.6,86.4 200,81.2 209,72.2 218.4,63 226,55 233,47.4 239.5,40.5 243.4,36.2 245,32.4 246.2,29.4 248.3,26.3 251.8,23.9 255.7,23 259.6,23.9 262,26.6 263.2,30.5" fill="none" stroke="#d0d0d0" stroke-width="1.35" stroke-linejoin="round"/>
<polyline points="189.6,91.9 195,96.2 200.3,99.8" fill="none" stroke="#dadada" stroke-width="1.9" stroke-linejoin="round"/>
<rect x="250.3" y="94.5" width="12.8" height="3.2" fill="#fff"/>
<polyline points="186.7,123.7 292.5,123.7" fill="none" stroke="#8a8a8a" stroke-width="1.25" stroke-dasharray="7 6.6"/>
<polyline points="185.7,139.3 262.6,139.3 302.2,191.2" fill="none" stroke="#222" stroke-width="1.0" stroke-dasharray="6.8 6.8"/>
<polyline points="184.3,151.2 236.2,151.2 276,203.6" fill="none" stroke="#222" stroke-width="1.0" stroke-dasharray="7.2 6.6"/>
<g clip-path="url(#clipB)">
<circle cx="191.5" cy="136.7" r="2.45" fill="url(#gG)"/>
<circle cx="198.7" cy="145.5" r="2.45" fill="url(#gG)"/>
<circle cx="204.7" cy="152.7" r="2.45" fill="url(#gG)"/>
<circle cx="209.7" cy="151.2" r="2.45" fill="url(#gG)"/>
<circle cx="213.7" cy="153" r="2.45" fill="url(#gG)"/>
<circle cx="218.7" cy="151.8" r="2.45" fill="url(#gG)"/>
<circle cx="228.7" cy="153.3" r="2.45" fill="url(#gG)"/>
<circle cx="233.7" cy="151.1" r="2.45" fill="url(#gG)"/>
<circle cx="242.3" cy="157" r="2.45" fill="url(#gG)"/>
<circle cx="248.7" cy="164.3" r="2.45" fill="url(#gG)"/>
<circle cx="253.9" cy="172" r="2.45" fill="url(#gG)"/>
<circle cx="258.8" cy="172.4" r="2.45" fill="url(#gG)"/>
<circle cx="262.4" cy="181.9" r="2.45" fill="url(#gG)"/>
<circle cx="266.2" cy="188.4" r="2.45" fill="url(#gG)"/>
<circle cx="269.3" cy="199.3" r="2.45" fill="url(#gG)"/>
<circle cx="274.4" cy="202.7" r="2.45" fill="url(#gG)"/>
<circle cx="278.9" cy="203.4" r="2.45" fill="url(#gG)"/>
<circle cx="282.6" cy="195" r="2.45" fill="url(#gG)"/>
<circle cx="286.3" cy="195" r="2.45" fill="url(#gG)"/>
<circle cx="289.1" cy="216" r="2.45" fill="url(#gG)"/>
<circle cx="186.5" cy="140.8" r="2.45" fill="url(#gT)"/>
<circle cx="191.5" cy="143.6" r="2.45" fill="url(#gT)"/>
<circle cx="195.5" cy="140.5" r="2.45" fill="url(#gT)"/>
<circle cx="201.8" cy="135.3" r="2.45" fill="url(#gT)"/>
<circle cx="207.3" cy="137.5" r="2.45" fill="url(#gT)"/>
<circle cx="211.9" cy="144.3" r="2.45" fill="url(#gT)"/>
<circle cx="218.7" cy="144.3" r="2.45" fill="url(#gT)"/>
<circle cx="224.9" cy="135.3" r="2.45" fill="url(#gT)"/>
<circle cx="231.9" cy="139.8" r="2.45" fill="url(#gT)"/>
<circle cx="237.4" cy="137.9" r="2.45" fill="url(#gT)"/>
<circle cx="242.3" cy="140" r="2.45" fill="url(#gT)"/>
<circle cx="248.7" cy="135.6" r="2.45" fill="url(#gT)"/>
<circle cx="258.4" cy="130.5" r="2.45" fill="url(#gT)"/>
<circle cx="265.8" cy="136.4" r="2.45" fill="url(#gT)"/>
<circle cx="271.9" cy="152.7" r="2.45" fill="url(#gT)"/>
<circle cx="276.6" cy="154.7" r="2.45" fill="url(#gT)"/>
<circle cx="286.7" cy="173.1" r="2.45" fill="url(#gT)"/>
<circle cx="293.6" cy="176.1" r="2.45" fill="url(#gT)"/>
<circle cx="300.4" cy="187.4" r="2.45" fill="url(#gT)"/>
<circle cx="186.7" cy="118.2" r="2.45" fill="url(#gB)"/>
<circle cx="195.4" cy="116.8" r="2.45" fill="url(#gB)"/>
<circle cx="201.8" cy="118.9" r="2.45" fill="url(#gB)"/>
<circle cx="209.4" cy="122.2" r="2.45" fill="url(#gB)"/>
<circle cx="215.6" cy="122.4" r="2.45" fill="url(#gB)"/>
<circle cx="222" cy="119.9" r="2.45" fill="url(#gB)"/>
<circle cx="228.8" cy="116.5" r="2.45" fill="url(#gB)"/>
<circle cx="234.2" cy="124.4" r="2.45" fill="url(#gB)"/>
<circle cx="238.4" cy="123.7" r="2.45" fill="url(#gB)"/>
<circle cx="242.3" cy="124.8" r="2.45" fill="url(#gB)"/>
<circle cx="247.5" cy="126.1" r="2.45" fill="url(#gB)"/>
<circle cx="252.6" cy="126.5" r="2.45" fill="url(#gB)"/>
<circle cx="254.1" cy="123.7" r="2.45" fill="url(#gB)"/>
<circle cx="256.1" cy="121.8" r="2.45" fill="url(#gB)"/>
<circle cx="258.9" cy="123.4" r="2.45" fill="url(#gB)"/>
<circle cx="262" cy="126.2" r="2.45" fill="url(#gB)"/>
<circle cx="265.8" cy="128.2" r="2.45" fill="url(#gB)"/>
<circle cx="269.4" cy="124.7" r="2.45" fill="url(#gB)"/>
<circle cx="271.9" cy="128.4" r="2.45" fill="url(#gB)"/>
<circle cx="274.4" cy="128" r="2.45" fill="url(#gB)"/>
<circle cx="276.6" cy="126.8" r="2.45" fill="url(#gB)"/>
<circle cx="278.7" cy="129.7" r="2.45" fill="url(#gB)"/>
<circle cx="282.6" cy="128.4" r="2.45" fill="url(#gB)"/>
<circle cx="286.2" cy="126.2" r="2.45" fill="url(#gB)"/>
<circle cx="289.5" cy="124.4" r="2.45" fill="url(#gB)"/>
<circle cx="292.4" cy="129.7" r="2.45" fill="url(#gB)"/>
</g>
<text x="241.3" y="114.9" font-size="8.6" text-anchor="start" fill="#3a3aff" color="#3a3aff" style="stroke-width:0">I</text>
<text x="272.9" y="146.2" font-size="8.6" text-anchor="start" fill="#2aa0a6" color="#2aa0a6" style="stroke-width:0">II</text>
<text x="224.6" y="169.4" font-size="8.6" text-anchor="start" fill="#36e064" color="#36e064" style="stroke-width:0">III</text>
<text x="286.9" y="164.6" font-size="8.4" text-anchor="start" fill="#222" color="#222" >−0.5</text>
<text x="241.6" y="192" font-size="8.4" text-anchor="start" fill="#222" color="#222" >−0.5</text>
<rect x="181.7" y="15.6" width="127.8" height="200.9" fill="none" stroke="#333" stroke-width="1.1"/>
<line x1="202" y1="216.5" x2="202" y2="211.5" stroke="#333" stroke-width="0.9" />
<line x1="202" y1="15.6" x2="202" y2="20.6" stroke="#333" stroke-width="0.9" />
<line x1="269.6" y1="216.5" x2="269.6" y2="211.5" stroke="#333" stroke-width="0.9" />
<line x1="269.6" y1="15.6" x2="269.6" y2="20.6" stroke="#333" stroke-width="0.9" />
<line x1="187" y1="216.5" x2="187" y2="214" stroke="#333" stroke-width="0.9" />
<line x1="187" y1="15.6" x2="187" y2="18.1" stroke="#333" stroke-width="0.9" />
<line x1="191.53" y1="216.5" x2="191.53" y2="214" stroke="#333" stroke-width="0.9" />
<line x1="191.53" y1="15.6" x2="191.53" y2="18.1" stroke="#333" stroke-width="0.9" />
<line x1="195.45" y1="216.5" x2="195.45" y2="214" stroke="#333" stroke-width="0.9" />
<line x1="195.45" y1="15.6" x2="195.45" y2="18.1" stroke="#333" stroke-width="0.9" />
<line x1="198.91" y1="216.5" x2="198.91" y2="214" stroke="#333" stroke-width="0.9" />
<line x1="198.91" y1="15.6" x2="198.91" y2="18.1" stroke="#333" stroke-width="0.9" />
<line x1="222.35" y1="216.5" x2="222.35" y2="214" stroke="#333" stroke-width="0.9" />
<line x1="222.35" y1="15.6" x2="222.35" y2="18.1" stroke="#333" stroke-width="0.9" />
<line x1="234.25" y1="216.5" x2="234.25" y2="214" stroke="#333" stroke-width="0.9" />
<line x1="234.25" y1="15.6" x2="234.25" y2="18.1" stroke="#333" stroke-width="0.9" />
<line x1="242.7" y1="216.5" x2="242.7" y2="214" stroke="#333" stroke-width="0.9" />
<line x1="242.7" y1="15.6" x2="242.7" y2="18.1" stroke="#333" stroke-width="0.9" />
<line x1="249.25" y1="216.5" x2="249.25" y2="214" stroke="#333" stroke-width="0.9" />
<line x1="249.25" y1="15.6" x2="249.25" y2="18.1" stroke="#333" stroke-width="0.9" />
<line x1="254.6" y1="216.5" x2="254.6" y2="214" stroke="#333" stroke-width="0.9" />
<line x1="254.6" y1="15.6" x2="254.6" y2="18.1" stroke="#333" stroke-width="0.9" />
<line x1="259.13" y1="216.5" x2="259.13" y2="214" stroke="#333" stroke-width="0.9" />
<line x1="259.13" y1="15.6" x2="259.13" y2="18.1" stroke="#333" stroke-width="0.9" />
<line x1="263.05" y1="216.5" x2="263.05" y2="214" stroke="#333" stroke-width="0.9" />
<line x1="263.05" y1="15.6" x2="263.05" y2="18.1" stroke="#333" stroke-width="0.9" />
<line x1="266.51" y1="216.5" x2="266.51" y2="214" stroke="#333" stroke-width="0.9" />
<line x1="266.51" y1="15.6" x2="266.51" y2="18.1" stroke="#333" stroke-width="0.9" />
<line x1="289.95" y1="216.5" x2="289.95" y2="214" stroke="#333" stroke-width="0.9" />
<line x1="289.95" y1="15.6" x2="289.95" y2="18.1" stroke="#333" stroke-width="0.9" />
<line x1="301.85" y1="216.5" x2="301.85" y2="214" stroke="#333" stroke-width="0.9" />
<line x1="301.85" y1="15.6" x2="301.85" y2="18.1" stroke="#333" stroke-width="0.9" />
<line x1="181.7" y1="34.89" x2="186.7" y2="34.89" stroke="#333" stroke-width="0.9" />
<line x1="309.5" y1="34.89" x2="304.5" y2="34.89" stroke="#333" stroke-width="0.9" />
<line x1="181.7" y1="60.01" x2="186.7" y2="60.01" stroke="#333" stroke-width="0.9" />
<line x1="309.5" y1="60.01" x2="304.5" y2="60.01" stroke="#333" stroke-width="0.9" />
<line x1="181.7" y1="95.4" x2="186.7" y2="95.4" stroke="#333" stroke-width="0.9" />
<line x1="309.5" y1="95.4" x2="304.5" y2="95.4" stroke="#333" stroke-width="0.9" />
<line x1="181.7" y1="155.91" x2="186.7" y2="155.91" stroke="#333" stroke-width="0.9" />
<line x1="309.5" y1="155.91" x2="304.5" y2="155.91" stroke="#333" stroke-width="0.9" />
<line x1="181.7" y1="17.62" x2="184.2" y2="17.62" stroke="#333" stroke-width="0.9" />
<line x1="309.5" y1="17.62" x2="307" y2="17.62" stroke="#333" stroke-width="0.9" />
<line x1="181.7" y1="19.89" x2="184.2" y2="19.89" stroke="#333" stroke-width="0.9" />
<line x1="309.5" y1="19.89" x2="307" y2="19.89" stroke="#333" stroke-width="0.9" />
<line x1="181.7" y1="22.22" x2="184.2" y2="22.22" stroke="#333" stroke-width="0.9" />
<line x1="309.5" y1="22.22" x2="307" y2="22.22" stroke="#333" stroke-width="0.9" />
<line x1="181.7" y1="24.61" x2="184.2" y2="24.61" stroke="#333" stroke-width="0.9" />
<line x1="309.5" y1="24.61" x2="307" y2="24.61" stroke="#333" stroke-width="0.9" />
<line x1="181.7" y1="27.07" x2="184.2" y2="27.07" stroke="#333" stroke-width="0.9" />
<line x1="309.5" y1="27.07" x2="307" y2="27.07" stroke="#333" stroke-width="0.9" />
<line x1="181.7" y1="29.6" x2="184.2" y2="29.6" stroke="#333" stroke-width="0.9" />
<line x1="309.5" y1="29.6" x2="307" y2="29.6" stroke="#333" stroke-width="0.9" />
<line x1="181.7" y1="32.21" x2="184.2" y2="32.21" stroke="#333" stroke-width="0.9" />
<line x1="309.5" y1="32.21" x2="307" y2="32.21" stroke="#333" stroke-width="0.9" />
<line x1="181.7" y1="37.66" x2="184.2" y2="37.66" stroke="#333" stroke-width="0.9" />
<line x1="309.5" y1="37.66" x2="307" y2="37.66" stroke="#333" stroke-width="0.9" />
<line x1="181.7" y1="40.53" x2="184.2" y2="40.53" stroke="#333" stroke-width="0.9" />
<line x1="309.5" y1="40.53" x2="307" y2="40.53" stroke="#333" stroke-width="0.9" />
<line x1="181.7" y1="43.49" x2="184.2" y2="43.49" stroke="#333" stroke-width="0.9" />
<line x1="309.5" y1="43.49" x2="307" y2="43.49" stroke="#333" stroke-width="0.9" />
<line x1="181.7" y1="46.55" x2="184.2" y2="46.55" stroke="#333" stroke-width="0.9" />
<line x1="309.5" y1="46.55" x2="307" y2="46.55" stroke="#333" stroke-width="0.9" />
<line x1="181.7" y1="49.72" x2="184.2" y2="49.72" stroke="#333" stroke-width="0.9" />
<line x1="309.5" y1="49.72" x2="307" y2="49.72" stroke="#333" stroke-width="0.9" />
<line x1="181.7" y1="53.02" x2="184.2" y2="53.02" stroke="#333" stroke-width="0.9" />
<line x1="309.5" y1="53.02" x2="307" y2="53.02" stroke="#333" stroke-width="0.9" />
<line x1="181.7" y1="56.44" x2="184.2" y2="56.44" stroke="#333" stroke-width="0.9" />
<line x1="309.5" y1="56.44" x2="307" y2="56.44" stroke="#333" stroke-width="0.9" />
<line x1="181.7" y1="63.72" x2="184.2" y2="63.72" stroke="#333" stroke-width="0.9" />
<line x1="309.5" y1="63.72" x2="307" y2="63.72" stroke="#333" stroke-width="0.9" />
<line x1="181.7" y1="67.6" x2="184.2" y2="67.6" stroke="#333" stroke-width="0.9" />
<line x1="309.5" y1="67.6" x2="307" y2="67.6" stroke="#333" stroke-width="0.9" />
<line x1="181.7" y1="71.66" x2="184.2" y2="71.66" stroke="#333" stroke-width="0.9" />
<line x1="309.5" y1="71.66" x2="307" y2="71.66" stroke="#333" stroke-width="0.9" />
<line x1="181.7" y1="75.92" x2="184.2" y2="75.92" stroke="#333" stroke-width="0.9" />
<line x1="309.5" y1="75.92" x2="307" y2="75.92" stroke="#333" stroke-width="0.9" />
<line x1="181.7" y1="80.4" x2="184.2" y2="80.4" stroke="#333" stroke-width="0.9" />
<line x1="309.5" y1="80.4" x2="307" y2="80.4" stroke="#333" stroke-width="0.9" />
<line x1="181.7" y1="85.12" x2="184.2" y2="85.12" stroke="#333" stroke-width="0.9" />
<line x1="309.5" y1="85.12" x2="307" y2="85.12" stroke="#333" stroke-width="0.9" />
<line x1="181.7" y1="90.11" x2="184.2" y2="90.11" stroke="#333" stroke-width="0.9" />
<line x1="309.5" y1="90.11" x2="307" y2="90.11" stroke="#333" stroke-width="0.9" />
<line x1="181.7" y1="101.03" x2="184.2" y2="101.03" stroke="#333" stroke-width="0.9" />
<line x1="309.5" y1="101.03" x2="307" y2="101.03" stroke="#333" stroke-width="0.9" />
<line x1="181.7" y1="107.06" x2="184.2" y2="107.06" stroke="#333" stroke-width="0.9" />
<line x1="309.5" y1="107.06" x2="307" y2="107.06" stroke="#333" stroke-width="0.9" />
<line x1="181.7" y1="113.53" x2="184.2" y2="113.53" stroke="#333" stroke-width="0.9" />
<line x1="309.5" y1="113.53" x2="307" y2="113.53" stroke="#333" stroke-width="0.9" />
<line x1="181.7" y1="120.51" x2="184.2" y2="120.51" stroke="#333" stroke-width="0.9" />
<line x1="309.5" y1="120.51" x2="307" y2="120.51" stroke="#333" stroke-width="0.9" />
<line x1="181.7" y1="128.11" x2="184.2" y2="128.11" stroke="#333" stroke-width="0.9" />
<line x1="309.5" y1="128.11" x2="307" y2="128.11" stroke="#333" stroke-width="0.9" />
<line x1="181.7" y1="136.43" x2="184.2" y2="136.43" stroke="#333" stroke-width="0.9" />
<line x1="309.5" y1="136.43" x2="307" y2="136.43" stroke="#333" stroke-width="0.9" />
<line x1="181.7" y1="145.63" x2="184.2" y2="145.63" stroke="#333" stroke-width="0.9" />
<line x1="309.5" y1="145.63" x2="307" y2="145.63" stroke="#333" stroke-width="0.9" />
<line x1="181.7" y1="166.5" x2="184.2" y2="166.5" stroke="#333" stroke-width="0.9" />
<line x1="309.5" y1="166.5" x2="307" y2="166.5" stroke="#333" stroke-width="0.9" />
<line x1="181.7" y1="178.3" x2="184.2" y2="178.3" stroke="#333" stroke-width="0.9" />
<line x1="309.5" y1="178.3" x2="307" y2="178.3" stroke="#333" stroke-width="0.9" />
<line x1="181.7" y1="191.5" x2="184.2" y2="191.5" stroke="#333" stroke-width="0.9" />
<line x1="309.5" y1="191.5" x2="307" y2="191.5" stroke="#333" stroke-width="0.9" />
<line x1="181.7" y1="207.2" x2="184.2" y2="207.2" stroke="#333" stroke-width="0.9" />
<line x1="309.5" y1="207.2" x2="307" y2="207.2" stroke="#333" stroke-width="0.9" />
<text x="175.6" y="19.31" font-size="8.5" text-anchor="end" fill="#000" color="#000" >2</text>
<text x="175.6" y="37.89" font-size="8.5" text-anchor="end" fill="#000" color="#000" >1.6</text>
<text x="175.6" y="63.01" font-size="8.5" text-anchor="end" fill="#000" color="#000" >1.2</text>
<text x="175.6" y="98.4" font-size="8.5" text-anchor="end" fill="#000" color="#000" >0.8</text>
<text x="175.6" y="158.91" font-size="8.5" text-anchor="end" fill="#000" color="#000" >0.4</text>
<text x="202.3" y="227.9" font-size="8.5" text-anchor="middle" fill="#000" color="#000" >10</text>
<text x="269" y="227.9" font-size="8.5" text-anchor="middle" fill="#000" color="#000" >100</text>
<text x="244.8" y="241.9" font-size="9.25" text-anchor="middle" fill="#000" color="#000" >Temperature (K)</text>
<text x="0" y="0" font-size="9.2" text-anchor="middle" fill="#000" color="#000" transform="translate(158.6 116.8) rotate(-90)">τ (ns)</text>
<line x1="313.5" y1="77.7" x2="388.0" y2="77.7" stroke="#2424ff" stroke-width="1"/>
<line x1="313.5" y1="144.2" x2="388.0" y2="144.2" stroke="#333" stroke-width="1"/>
<g clip-path="url(#clipBR)">
<circle cx="371.3" cy="115.8" r="1.8" fill="none" stroke="#1a1a1a" stroke-width="1.12"/>
<circle cx="374.3" cy="115.3" r="1.8" fill="none" stroke="#1a1a1a" stroke-width="1.12"/>
<circle cx="380.9" cy="124.3" r="1.8" fill="none" stroke="#1a1a1a" stroke-width="1.12"/>
<circle cx="386.1" cy="128.2" r="1.8" fill="none" stroke="#1a1a1a" stroke-width="1.12"/>
<circle cx="384.1" cy="132.3" r="1.8" fill="none" stroke="#1a1a1a" stroke-width="1.12"/>
<circle cx="348.9" cy="130.2" r="1.8" fill="none" stroke="#1a1a1a" stroke-width="1.12"/>
<circle cx="352.2" cy="129.5" r="1.8" fill="none" stroke="#1a1a1a" stroke-width="1.12"/>
<circle cx="346.4" cy="136.7" r="1.8" fill="none" stroke="#1a1a1a" stroke-width="1.12"/>
<circle cx="359.2" cy="136.4" r="1.8" fill="none" stroke="#1a1a1a" stroke-width="1.12"/>
<circle cx="323.1" cy="138.9" r="1.8" fill="none" stroke="#1a1a1a" stroke-width="1.12"/>
<circle cx="325.1" cy="137.7" r="1.8" fill="none" stroke="#1a1a1a" stroke-width="1.12"/>
<circle cx="328.1" cy="140" r="1.8" fill="none" stroke="#1a1a1a" stroke-width="1.12"/>
<circle cx="331.7" cy="138.5" r="1.8" fill="none" stroke="#1a1a1a" stroke-width="1.12"/>
<circle cx="315.3" cy="142.1" r="1.8" fill="none" stroke="#1a1a1a" stroke-width="1.12"/>
<circle cx="356.6" cy="142.1" r="1.8" fill="none" stroke="#1a1a1a" stroke-width="1.12"/>
<circle cx="369.4" cy="142.1" r="1.8" fill="none" stroke="#1a1a1a" stroke-width="1.12"/>
<circle cx="373" cy="144.3" r="1.8" fill="none" stroke="#1a1a1a" stroke-width="1.12"/>
<circle cx="377.6" cy="143.8" r="1.8" fill="none" stroke="#1a1a1a" stroke-width="1.12"/>
<circle cx="344.5" cy="147" r="1.8" fill="none" stroke="#1a1a1a" stroke-width="1.12"/>
<circle cx="370.2" cy="147.5" r="1.8" fill="none" stroke="#1a1a1a" stroke-width="1.12"/>
<circle cx="360.4" cy="149.2" r="1.8" fill="none" stroke="#1a1a1a" stroke-width="1.12"/>
<circle cx="362.8" cy="152" r="1.8" fill="none" stroke="#1a1a1a" stroke-width="1.12"/>
<circle cx="332.5" cy="152" r="1.8" fill="none" stroke="#1a1a1a" stroke-width="1.12"/>
<circle cx="315.3" cy="152" r="1.8" fill="none" stroke="#1a1a1a" stroke-width="1.12"/>
<circle cx="316.1" cy="154.8" r="1.8" fill="none" stroke="#1a1a1a" stroke-width="1.12"/>
<circle cx="319.4" cy="155.7" r="1.8" fill="none" stroke="#1a1a1a" stroke-width="1.12"/>
<circle cx="340.7" cy="154.4" r="1.8" fill="none" stroke="#1a1a1a" stroke-width="1.12"/>
<circle cx="379.5" cy="155.5" r="1.8" fill="none" stroke="#1a1a1a" stroke-width="1.12"/>
<circle cx="361.2" cy="159.2" r="1.8" fill="none" stroke="#1a1a1a" stroke-width="1.12"/>
<circle cx="341.6" cy="158.8" r="1.8" fill="none" stroke="#1a1a1a" stroke-width="1.12"/>
<circle cx="366.1" cy="162.4" r="1.8" fill="none" stroke="#1a1a1a" stroke-width="1.12"/>
<circle cx="353.3" cy="171.4" r="1.8" fill="none" stroke="#1a1a1a" stroke-width="1.12"/>
<circle cx="317.7" cy="182.9" r="1.8" fill="none" stroke="#1a1a1a" stroke-width="1.12"/>
<circle cx="359.4" cy="138.6" r="1.8" fill="none" stroke="#1a1a1a" stroke-width="1.12"/>
<circle cx="387.6" cy="147.2" r="1.8" fill="none" stroke="#1a1a1a" stroke-width="1.12"/>
<circle cx="352.2" cy="25.3" r="1.8" fill="none" stroke="#1c1cff" stroke-width="1.12"/>
<circle cx="352.2" cy="31.9" r="1.8" fill="none" stroke="#1c1cff" stroke-width="1.12"/>
<circle cx="377.2" cy="28.9" r="1.8" fill="none" stroke="#1c1cff" stroke-width="1.12"/>
<circle cx="369.4" cy="35.5" r="1.8" fill="none" stroke="#1c1cff" stroke-width="1.12"/>
<circle cx="379.7" cy="35.5" r="1.8" fill="none" stroke="#1c1cff" stroke-width="1.12"/>
<circle cx="324.3" cy="46.6" r="1.8" fill="none" stroke="#1c1cff" stroke-width="1.12"/>
<circle cx="328.4" cy="50.7" r="1.8" fill="none" stroke="#1c1cff" stroke-width="1.12"/>
<circle cx="359" cy="45.3" r="1.8" fill="none" stroke="#1c1cff" stroke-width="1.12"/>
<circle cx="363.6" cy="44.7" r="1.8" fill="none" stroke="#1c1cff" stroke-width="1.12"/>
<circle cx="374" cy="48.6" r="1.8" fill="none" stroke="#1c1cff" stroke-width="1.12"/>
<circle cx="384.1" cy="48.6" r="1.8" fill="none" stroke="#1c1cff" stroke-width="1.12"/>
<circle cx="346.1" cy="53.7" r="1.8" fill="none" stroke="#1c1cff" stroke-width="1.12"/>
<circle cx="359.9" cy="53" r="1.8" fill="none" stroke="#1c1cff" stroke-width="1.12"/>
<circle cx="364.5" cy="53" r="1.8" fill="none" stroke="#1c1cff" stroke-width="1.12"/>
<circle cx="380.9" cy="53" r="1.8" fill="none" stroke="#1c1cff" stroke-width="1.12"/>
<circle cx="336.3" cy="59.5" r="1.8" fill="none" stroke="#1c1cff" stroke-width="1.12"/>
<circle cx="319.9" cy="74.3" r="1.8" fill="none" stroke="#1c1cff" stroke-width="1.12"/>
<circle cx="315.3" cy="81.1" r="1.8" fill="none" stroke="#1c1cff" stroke-width="1.12"/>
<circle cx="318.9" cy="81.1" r="1.8" fill="none" stroke="#1c1cff" stroke-width="1.12"/>
<circle cx="323.5" cy="79.2" r="1.8" fill="none" stroke="#1c1cff" stroke-width="1.12"/>
<circle cx="323.1" cy="76.7" r="1.8" fill="none" stroke="#1c1cff" stroke-width="1.12"/>
<circle cx="339" cy="76.6" r="1.8" fill="none" stroke="#1c1cff" stroke-width="1.12"/>
<circle cx="340.7" cy="75.4" r="1.8" fill="none" stroke="#1c1cff" stroke-width="1.12"/>
<circle cx="343.1" cy="73" r="1.8" fill="none" stroke="#1c1cff" stroke-width="1.12"/>
<circle cx="344.8" cy="79.2" r="1.8" fill="none" stroke="#1c1cff" stroke-width="1.12"/>
<circle cx="345.6" cy="82.5" r="1.8" fill="none" stroke="#1c1cff" stroke-width="1.12"/>
<circle cx="348.9" cy="79.2" r="1.8" fill="none" stroke="#1c1cff" stroke-width="1.12"/>
<circle cx="351" cy="74.9" r="1.8" fill="none" stroke="#1c1cff" stroke-width="1.12"/>
<circle cx="355.4" cy="79.2" r="1.8" fill="none" stroke="#1c1cff" stroke-width="1.12"/>
<circle cx="357.9" cy="78.2" r="1.8" fill="none" stroke="#1c1cff" stroke-width="1.12"/>
<circle cx="361.5" cy="71.3" r="1.8" fill="none" stroke="#1c1cff" stroke-width="1.12"/>
<circle cx="362.6" cy="84.9" r="1.8" fill="none" stroke="#1c1cff" stroke-width="1.12"/>
<circle cx="364.8" cy="83.2" r="1.8" fill="none" stroke="#1c1cff" stroke-width="1.12"/>
<circle cx="366.1" cy="80.3" r="1.8" fill="none" stroke="#1c1cff" stroke-width="1.12"/>
<circle cx="370.7" cy="79.8" r="1.8" fill="none" stroke="#1c1cff" stroke-width="1.12"/>
<circle cx="371.8" cy="73.8" r="1.8" fill="none" stroke="#1c1cff" stroke-width="1.12"/>
<circle cx="338.4" cy="86.3" r="1.8" fill="none" stroke="#1c1cff" stroke-width="1.12"/>
<circle cx="353.3" cy="88.1" r="1.8" fill="none" stroke="#1c1cff" stroke-width="1.12"/>
<circle cx="322.4" cy="89.4" r="1.8" fill="none" stroke="#1c1cff" stroke-width="1.12"/>
<circle cx="325.9" cy="89.4" r="1.8" fill="none" stroke="#1c1cff" stroke-width="1.12"/>
<circle cx="383.3" cy="86.9" r="1.8" fill="none" stroke="#1c1cff" stroke-width="1.12"/>
<circle cx="331.3" cy="96.1" r="1.8" fill="none" stroke="#1c1cff" stroke-width="1.12"/>
<circle cx="376.3" cy="101.1" r="1.8" fill="none" stroke="#1c1cff" stroke-width="1.12"/>
<circle cx="347.7" cy="110.9" r="1.8" fill="none" stroke="#1c1cff" stroke-width="1.12"/>
<circle cx="356.6" cy="112.5" r="1.8" fill="none" stroke="#1c1cff" stroke-width="1.12"/>
<circle cx="375.1" cy="111.2" r="1.8" fill="none" stroke="#1c1cff" stroke-width="1.12"/>
<circle cx="337.4" cy="118.1" r="1.8" fill="none" stroke="#1c1cff" stroke-width="1.12"/>
<circle cx="341.8" cy="122.7" r="1.8" fill="none" stroke="#1c1cff" stroke-width="1.12"/>
<circle cx="354.3" cy="121.3" r="1.8" fill="none" stroke="#1c1cff" stroke-width="1.12"/>
<circle cx="372.7" cy="118.6" r="1.8" fill="none" stroke="#1c1cff" stroke-width="1.12"/>
<circle cx="315.3" cy="124.8" r="1.8" fill="none" stroke="#1c1cff" stroke-width="1.12"/>
<circle cx="321.2" cy="125.6" r="1.8" fill="none" stroke="#1c1cff" stroke-width="1.12"/>
<circle cx="330.4" cy="136.9" r="1.8" fill="none" stroke="#1c1cff" stroke-width="1.12"/>
<circle cx="368.1" cy="135.6" r="1.8" fill="none" stroke="#1c1cff" stroke-width="1.12"/>
<circle cx="382.2" cy="139.7" r="1.8" fill="none" stroke="#1c1cff" stroke-width="1.12"/>
<circle cx="378.4" cy="159.5" r="1.8" fill="none" stroke="#1c1cff" stroke-width="1.12"/>
<circle cx="316.1" cy="187" r="1.8" fill="none" stroke="#1c1cff" stroke-width="1.12"/>
</g>
<text x="321.6" y="31" font-size="9.3" text-anchor="start" fill="#2020ff" color="#2020ff" >4 K</text>
<text x="323.6" y="184.4" font-size="9.3" text-anchor="start" fill="#222" color="#222" >300 K</text>
<text x="390.2" y="80.8" font-size="7.8" text-anchor="start" fill="#2020ff" color="#2020ff" >0.98 ns</text>
<text x="390.2" y="148.4" font-size="7.8" text-anchor="start" fill="#333" color="#333" >0.46 ns</text>
<rect x="313.5" y="15.6" width="74.5" height="200.9" fill="none" stroke="#333" stroke-width="1.1"/>
<line x1="347.74" y1="216.5" x2="347.74" y2="211.5" stroke="#333" stroke-width="0.9" />
<line x1="347.74" y1="15.6" x2="347.74" y2="20.6" stroke="#333" stroke-width="0.9" />
<line x1="382.18" y1="216.5" x2="382.18" y2="211.5" stroke="#333" stroke-width="0.9" />
<line x1="382.18" y1="15.6" x2="382.18" y2="20.6" stroke="#333" stroke-width="0.9" />
<line x1="330.52" y1="216.5" x2="330.52" y2="214" stroke="#333" stroke-width="0.9" />
<line x1="330.52" y1="15.6" x2="330.52" y2="18.1" stroke="#333" stroke-width="0.9" />
<line x1="364.96" y1="216.5" x2="364.96" y2="214" stroke="#333" stroke-width="0.9" />
<line x1="364.96" y1="15.6" x2="364.96" y2="18.1" stroke="#333" stroke-width="0.9" />
<line x1="313.5" y1="34.89" x2="318.5" y2="34.89" stroke="#333" stroke-width="0.9" />
<line x1="388" y1="34.89" x2="383" y2="34.89" stroke="#333" stroke-width="0.9" />
<line x1="313.5" y1="60.01" x2="318.5" y2="60.01" stroke="#333" stroke-width="0.9" />
<line x1="388" y1="60.01" x2="383" y2="60.01" stroke="#333" stroke-width="0.9" />
<line x1="313.5" y1="95.4" x2="318.5" y2="95.4" stroke="#333" stroke-width="0.9" />
<line x1="388" y1="95.4" x2="383" y2="95.4" stroke="#333" stroke-width="0.9" />
<line x1="313.5" y1="155.91" x2="318.5" y2="155.91" stroke="#333" stroke-width="0.9" />
<line x1="388" y1="155.91" x2="383" y2="155.91" stroke="#333" stroke-width="0.9" />
<line x1="313.5" y1="17.62" x2="316" y2="17.62" stroke="#333" stroke-width="0.9" />
<line x1="388" y1="17.62" x2="385.5" y2="17.62" stroke="#333" stroke-width="0.9" />
<line x1="313.5" y1="19.89" x2="316" y2="19.89" stroke="#333" stroke-width="0.9" />
<line x1="388" y1="19.89" x2="385.5" y2="19.89" stroke="#333" stroke-width="0.9" />
<line x1="313.5" y1="22.22" x2="316" y2="22.22" stroke="#333" stroke-width="0.9" />
<line x1="388" y1="22.22" x2="385.5" y2="22.22" stroke="#333" stroke-width="0.9" />
<line x1="313.5" y1="24.61" x2="316" y2="24.61" stroke="#333" stroke-width="0.9" />
<line x1="388" y1="24.61" x2="385.5" y2="24.61" stroke="#333" stroke-width="0.9" />
<line x1="313.5" y1="27.07" x2="316" y2="27.07" stroke="#333" stroke-width="0.9" />
<line x1="388" y1="27.07" x2="385.5" y2="27.07" stroke="#333" stroke-width="0.9" />
<line x1="313.5" y1="29.6" x2="316" y2="29.6" stroke="#333" stroke-width="0.9" />
<line x1="388" y1="29.6" x2="385.5" y2="29.6" stroke="#333" stroke-width="0.9" />
<line x1="313.5" y1="32.21" x2="316" y2="32.21" stroke="#333" stroke-width="0.9" />
<line x1="388" y1="32.21" x2="385.5" y2="32.21" stroke="#333" stroke-width="0.9" />
<line x1="313.5" y1="37.66" x2="316" y2="37.66" stroke="#333" stroke-width="0.9" />
<line x1="388" y1="37.66" x2="385.5" y2="37.66" stroke="#333" stroke-width="0.9" />
<line x1="313.5" y1="40.53" x2="316" y2="40.53" stroke="#333" stroke-width="0.9" />
<line x1="388" y1="40.53" x2="385.5" y2="40.53" stroke="#333" stroke-width="0.9" />
<line x1="313.5" y1="43.49" x2="316" y2="43.49" stroke="#333" stroke-width="0.9" />
<line x1="388" y1="43.49" x2="385.5" y2="43.49" stroke="#333" stroke-width="0.9" />
<line x1="313.5" y1="46.55" x2="316" y2="46.55" stroke="#333" stroke-width="0.9" />
<line x1="388" y1="46.55" x2="385.5" y2="46.55" stroke="#333" stroke-width="0.9" />
<line x1="313.5" y1="49.72" x2="316" y2="49.72" stroke="#333" stroke-width="0.9" />
<line x1="388" y1="49.72" x2="385.5" y2="49.72" stroke="#333" stroke-width="0.9" />
<line x1="313.5" y1="53.02" x2="316" y2="53.02" stroke="#333" stroke-width="0.9" />
<line x1="388" y1="53.02" x2="385.5" y2="53.02" stroke="#333" stroke-width="0.9" />
<line x1="313.5" y1="56.44" x2="316" y2="56.44" stroke="#333" stroke-width="0.9" />
<line x1="388" y1="56.44" x2="385.5" y2="56.44" stroke="#333" stroke-width="0.9" />
<line x1="313.5" y1="63.72" x2="316" y2="63.72" stroke="#333" stroke-width="0.9" />
<line x1="388" y1="63.72" x2="385.5" y2="63.72" stroke="#333" stroke-width="0.9" />
<line x1="313.5" y1="67.6" x2="316" y2="67.6" stroke="#333" stroke-width="0.9" />
<line x1="388" y1="67.6" x2="385.5" y2="67.6" stroke="#333" stroke-width="0.9" />
<line x1="313.5" y1="71.66" x2="316" y2="71.66" stroke="#333" stroke-width="0.9" />
<line x1="388" y1="71.66" x2="385.5" y2="71.66" stroke="#333" stroke-width="0.9" />
<line x1="313.5" y1="75.92" x2="316" y2="75.92" stroke="#333" stroke-width="0.9" />
<line x1="388" y1="75.92" x2="385.5" y2="75.92" stroke="#333" stroke-width="0.9" />
<line x1="313.5" y1="80.4" x2="316" y2="80.4" stroke="#333" stroke-width="0.9" />
<line x1="388" y1="80.4" x2="385.5" y2="80.4" stroke="#333" stroke-width="0.9" />
<line x1="313.5" y1="85.12" x2="316" y2="85.12" stroke="#333" stroke-width="0.9" />
<line x1="388" y1="85.12" x2="385.5" y2="85.12" stroke="#333" stroke-width="0.9" />
<line x1="313.5" y1="90.11" x2="316" y2="90.11" stroke="#333" stroke-width="0.9" />
<line x1="388" y1="90.11" x2="385.5" y2="90.11" stroke="#333" stroke-width="0.9" />
<line x1="313.5" y1="101.03" x2="316" y2="101.03" stroke="#333" stroke-width="0.9" />
<line x1="388" y1="101.03" x2="385.5" y2="101.03" stroke="#333" stroke-width="0.9" />
<line x1="313.5" y1="107.06" x2="316" y2="107.06" stroke="#333" stroke-width="0.9" />
<line x1="388" y1="107.06" x2="385.5" y2="107.06" stroke="#333" stroke-width="0.9" />
<line x1="313.5" y1="113.53" x2="316" y2="113.53" stroke="#333" stroke-width="0.9" />
<line x1="388" y1="113.53" x2="385.5" y2="113.53" stroke="#333" stroke-width="0.9" />
<line x1="313.5" y1="120.51" x2="316" y2="120.51" stroke="#333" stroke-width="0.9" />
<line x1="388" y1="120.51" x2="385.5" y2="120.51" stroke="#333" stroke-width="0.9" />
<line x1="313.5" y1="128.11" x2="316" y2="128.11" stroke="#333" stroke-width="0.9" />
<line x1="388" y1="128.11" x2="385.5" y2="128.11" stroke="#333" stroke-width="0.9" />
<line x1="313.5" y1="136.43" x2="316" y2="136.43" stroke="#333" stroke-width="0.9" />
<line x1="388" y1="136.43" x2="385.5" y2="136.43" stroke="#333" stroke-width="0.9" />
<line x1="313.5" y1="145.63" x2="316" y2="145.63" stroke="#333" stroke-width="0.9" />
<line x1="388" y1="145.63" x2="385.5" y2="145.63" stroke="#333" stroke-width="0.9" />
<line x1="313.5" y1="166.5" x2="316" y2="166.5" stroke="#333" stroke-width="0.9" />
<line x1="388" y1="166.5" x2="385.5" y2="166.5" stroke="#333" stroke-width="0.9" />
<line x1="313.5" y1="178.3" x2="316" y2="178.3" stroke="#333" stroke-width="0.9" />
<line x1="388" y1="178.3" x2="385.5" y2="178.3" stroke="#333" stroke-width="0.9" />
<line x1="313.5" y1="191.5" x2="316" y2="191.5" stroke="#333" stroke-width="0.9" />
<line x1="388" y1="191.5" x2="385.5" y2="191.5" stroke="#333" stroke-width="0.9" />
<line x1="313.5" y1="207.2" x2="316" y2="207.2" stroke="#333" stroke-width="0.9" />
<line x1="388" y1="207.2" x2="385.5" y2="207.2" stroke="#333" stroke-width="0.9" />
<text x="313.3" y="227.9" font-size="8.5" text-anchor="middle" fill="#000" color="#000" >0</text>
<text x="347.74" y="227.9" font-size="8.5" text-anchor="middle" fill="#000" color="#000" >30</text>
<text x="382.18" y="227.9" font-size="8.5" text-anchor="middle" fill="#000" color="#000" >60</text>
<text x="349.1" y="241.9" font-size="9.2" text-anchor="middle" fill="#000" color="#000" >Nanowire</text>
<g clip-path="url(#clipC)">
<circle cx="463.5" cy="99.6" r="2.45" fill="url(#gG)"/>
<circle cx="470.7" cy="102.7" r="2.45" fill="url(#gG)"/>
<circle cx="476.7" cy="103" r="2.45" fill="url(#gG)"/>
<circle cx="481.4" cy="103.7" r="2.45" fill="url(#gG)"/>
<circle cx="485.7" cy="103" r="2.45" fill="url(#gG)"/>
<circle cx="491" cy="99" r="2.45" fill="url(#gG)"/>
<circle cx="500.8" cy="99.4" r="2.45" fill="url(#gG)"/>
<circle cx="505.8" cy="99.8" r="2.45" fill="url(#gG)"/>
<circle cx="514" cy="101.6" r="2.45" fill="url(#gG)"/>
<circle cx="520.6" cy="101.8" r="2.45" fill="url(#gG)"/>
<circle cx="525.8" cy="103.6" r="2.45" fill="url(#gG)"/>
<circle cx="530.6" cy="105.5" r="2.45" fill="url(#gG)"/>
<circle cx="534.4" cy="107.6" r="2.45" fill="url(#gG)"/>
<circle cx="537.7" cy="109.6" r="2.45" fill="url(#gG)"/>
<circle cx="540.8" cy="111.5" r="2.45" fill="url(#gG)"/>
<circle cx="546.3" cy="113.4" r="2.45" fill="url(#gG)"/>
<circle cx="550.9" cy="116.8" r="2.45" fill="url(#gG)"/>
<circle cx="554.9" cy="123.4" r="2.45" fill="url(#gG)"/>
<circle cx="558" cy="130.5" r="2.45" fill="url(#gG)"/>
<circle cx="561.2" cy="141.1" r="2.45" fill="url(#gG)"/>
<circle cx="564.5" cy="151.1" r="2.45" fill="url(#gG)"/>
<circle cx="567.8" cy="148" r="2.45" fill="url(#gG)"/>
<circle cx="573" cy="165.6" r="2.45" fill="url(#gG)"/>
<circle cx="458.7" cy="53.6" r="2.45" fill="url(#gT)"/>
<circle cx="463.5" cy="55.2" r="2.45" fill="url(#gT)"/>
<circle cx="467.4" cy="64.7" r="2.45" fill="url(#gT)"/>
<circle cx="473.8" cy="67.3" r="2.45" fill="url(#gT)"/>
<circle cx="479" cy="69.8" r="2.45" fill="url(#gT)"/>
<circle cx="483.9" cy="67" r="2.45" fill="url(#gT)"/>
<circle cx="491" cy="72.3" r="2.45" fill="url(#gT)"/>
<circle cx="496.8" cy="73.7" r="2.45" fill="url(#gT)"/>
<circle cx="503.9" cy="67" r="2.45" fill="url(#gT)"/>
<circle cx="509.4" cy="61.8" r="2.45" fill="url(#gT)"/>
<circle cx="514.4" cy="67" r="2.45" fill="url(#gT)"/>
<circle cx="520.4" cy="74.8" r="2.45" fill="url(#gT)"/>
<circle cx="526.2" cy="68.7" r="2.45" fill="url(#gT)"/>
<circle cx="530.8" cy="69.4" r="2.45" fill="url(#gT)"/>
<circle cx="538" cy="70.1" r="2.45" fill="url(#gT)"/>
<circle cx="543.7" cy="83.6" r="2.45" fill="url(#gT)"/>
<circle cx="548.4" cy="89.4" r="2.45" fill="url(#gT)"/>
<circle cx="558" cy="93.2" r="2.45" fill="url(#gT)"/>
<circle cx="565.2" cy="112.2" r="2.45" fill="url(#gT)"/>
<circle cx="572.4" cy="116.8" r="2.45" fill="url(#gT)"/>
<circle cx="458.7" cy="26.5" r="2.45" fill="url(#gB)"/>
<circle cx="467.4" cy="33.4" r="2.45" fill="url(#gB)"/>
<circle cx="473.8" cy="33.4" r="2.45" fill="url(#gB)"/>
<circle cx="481.4" cy="34.1" r="2.45" fill="url(#gB)"/>
<circle cx="487.6" cy="31.1" r="2.45" fill="url(#gB)"/>
<circle cx="493.9" cy="34.1" r="2.45" fill="url(#gB)"/>
<circle cx="500.8" cy="36.8" r="2.45" fill="url(#gB)"/>
<circle cx="505.8" cy="33.4" r="2.45" fill="url(#gB)"/>
<circle cx="510.1" cy="32.9" r="2.45" fill="url(#gB)"/>
<circle cx="514.4" cy="32.9" r="2.45" fill="url(#gB)"/>
<circle cx="519.7" cy="35.4" r="2.45" fill="url(#gB)"/>
<circle cx="523.9" cy="36.2" r="2.45" fill="url(#gB)"/>
<circle cx="527.6" cy="35.8" r="2.45" fill="url(#gB)"/>
<circle cx="531.1" cy="36.2" r="2.45" fill="url(#gB)"/>
<circle cx="534.4" cy="32.9" r="2.45" fill="url(#gB)"/>
<circle cx="537.7" cy="32.5" r="2.45" fill="url(#gB)"/>
<circle cx="540.8" cy="30.5" r="2.45" fill="url(#gB)"/>
<circle cx="543.7" cy="31.9" r="2.45" fill="url(#gB)"/>
<circle cx="546.3" cy="33.4" r="2.45" fill="url(#gB)"/>
<circle cx="549.4" cy="31.9" r="2.45" fill="url(#gB)"/>
<circle cx="552.6" cy="31.9" r="2.45" fill="url(#gB)"/>
<circle cx="555.2" cy="32.5" r="2.45" fill="url(#gB)"/>
<circle cx="558" cy="35.1" r="2.45" fill="url(#gB)"/>
<circle cx="560.9" cy="36.2" r="2.45" fill="url(#gB)"/>
<circle cx="564.1" cy="34.4" r="2.45" fill="url(#gB)"/>
</g>
<text x="558.4" y="51.6" font-size="8.6" text-anchor="start" fill="#3a3aff" color="#3a3aff" style="stroke-width:0">I</text>
<text x="564.2" y="95.9" font-size="8.6" text-anchor="start" fill="#2aa0a6" color="#2aa0a6" style="stroke-width:0">II</text>
<text x="561.4" y="164" font-size="8.2" text-anchor="start" fill="#36e064" color="#36e064" style="stroke-width:0">III</text>
<rect x="453.6" y="136.5" width="70.7" height="80" fill="#fff"/>
<line x1="453.6" y1="136.5" x2="524.3" y2="136.5" stroke="#333" stroke-width="1.1"/>
<line x1="524.3" y1="136.5" x2="524.3" y2="216.5" stroke="#333" stroke-width="1.1"/>
<line x1="473" y1="136.5" x2="473" y2="141.5" stroke="#333" stroke-width="0.9" />
<line x1="500.2" y1="136.5" x2="500.2" y2="141.5" stroke="#333" stroke-width="0.9" />
<line x1="458.78" y1="136.5" x2="458.78" y2="138.7" stroke="#333" stroke-width="0.9" />
<line x1="462.18" y1="136.5" x2="462.18" y2="138.7" stroke="#333" stroke-width="0.9" />
<line x1="464.81" y1="136.5" x2="464.81" y2="138.7" stroke="#333" stroke-width="0.9" />
<line x1="466.97" y1="136.5" x2="466.97" y2="138.7" stroke="#333" stroke-width="0.9" />
<line x1="468.79" y1="136.5" x2="468.79" y2="138.7" stroke="#333" stroke-width="0.9" />
<line x1="470.36" y1="136.5" x2="470.36" y2="138.7" stroke="#333" stroke-width="0.9" />
<line x1="471.76" y1="136.5" x2="471.76" y2="138.7" stroke="#333" stroke-width="0.9" />
<line x1="481.19" y1="136.5" x2="481.19" y2="138.7" stroke="#333" stroke-width="0.9" />
<line x1="485.98" y1="136.5" x2="485.98" y2="138.7" stroke="#333" stroke-width="0.9" />
<line x1="489.38" y1="136.5" x2="489.38" y2="138.7" stroke="#333" stroke-width="0.9" />
<line x1="492.01" y1="136.5" x2="492.01" y2="138.7" stroke="#333" stroke-width="0.9" />
<line x1="494.17" y1="136.5" x2="494.17" y2="138.7" stroke="#333" stroke-width="0.9" />
<line x1="495.99" y1="136.5" x2="495.99" y2="138.7" stroke="#333" stroke-width="0.9" />
<line x1="497.56" y1="136.5" x2="497.56" y2="138.7" stroke="#333" stroke-width="0.9" />
<line x1="498.96" y1="136.5" x2="498.96" y2="138.7" stroke="#333" stroke-width="0.9" />
<line x1="508.39" y1="136.5" x2="508.39" y2="138.7" stroke="#333" stroke-width="0.9" />
<line x1="513.18" y1="136.5" x2="513.18" y2="138.7" stroke="#333" stroke-width="0.9" />
<line x1="516.58" y1="136.5" x2="516.58" y2="138.7" stroke="#333" stroke-width="0.9" />
<line x1="519.21" y1="136.5" x2="519.21" y2="138.7" stroke="#333" stroke-width="0.9" />
<line x1="521.37" y1="136.5" x2="521.37" y2="138.7" stroke="#333" stroke-width="0.9" />
<line x1="523.19" y1="136.5" x2="523.19" y2="138.7" stroke="#333" stroke-width="0.9" />
<line x1="524.3" y1="167.3" x2="519.3" y2="167.3" stroke="#333" stroke-width="0.9" />
<line x1="524.3" y1="199.9" x2="519.3" y2="199.9" stroke="#333" stroke-width="0.9" />
<line x1="524.3" y1="212.87" x2="522.1" y2="212.87" stroke="#333" stroke-width="0.9" />
<line x1="524.3" y1="209.71" x2="522.1" y2="209.71" stroke="#333" stroke-width="0.9" />
<line x1="524.3" y1="207.13" x2="522.1" y2="207.13" stroke="#333" stroke-width="0.9" />
<line x1="524.3" y1="204.95" x2="522.1" y2="204.95" stroke="#333" stroke-width="0.9" />
<line x1="524.3" y1="203.06" x2="522.1" y2="203.06" stroke="#333" stroke-width="0.9" />
<line x1="524.3" y1="201.39" x2="522.1" y2="201.39" stroke="#333" stroke-width="0.9" />
<line x1="524.3" y1="190.09" x2="522.1" y2="190.09" stroke="#333" stroke-width="0.9" />
<line x1="524.3" y1="184.35" x2="522.1" y2="184.35" stroke="#333" stroke-width="0.9" />
<line x1="524.3" y1="180.27" x2="522.1" y2="180.27" stroke="#333" stroke-width="0.9" />
<line x1="524.3" y1="177.11" x2="522.1" y2="177.11" stroke="#333" stroke-width="0.9" />
<line x1="524.3" y1="174.53" x2="522.1" y2="174.53" stroke="#333" stroke-width="0.9" />
<line x1="524.3" y1="172.35" x2="522.1" y2="172.35" stroke="#333" stroke-width="0.9" />
<line x1="524.3" y1="170.46" x2="522.1" y2="170.46" stroke="#333" stroke-width="0.9" />
<line x1="524.3" y1="168.79" x2="522.1" y2="168.79" stroke="#333" stroke-width="0.9" />
<line x1="524.3" y1="157.49" x2="522.1" y2="157.49" stroke="#333" stroke-width="0.9" />
<line x1="524.3" y1="151.75" x2="522.1" y2="151.75" stroke="#333" stroke-width="0.9" />
<line x1="524.3" y1="147.67" x2="522.1" y2="147.67" stroke="#333" stroke-width="0.9" />
<line x1="524.3" y1="144.51" x2="522.1" y2="144.51" stroke="#333" stroke-width="0.9" />
<line x1="524.3" y1="141.93" x2="522.1" y2="141.93" stroke="#333" stroke-width="0.9" />
<line x1="524.3" y1="139.75" x2="522.1" y2="139.75" stroke="#333" stroke-width="0.9" />
<line x1="524.3" y1="137.86" x2="522.1" y2="137.86" stroke="#333" stroke-width="0.9" />
<text x="473" y="134.3" font-size="7.6" text-anchor="middle" fill="#000" color="#000" >1</text>
<text x="500.2" y="134.3" font-size="7.6" text-anchor="middle" fill="#000" color="#000" >10</text>
<text x="490" y="125" font-size="7.9" text-anchor="middle" fill="#000" color="#000" >Pulse energy (pJ)</text>
<text x="525.9" y="170.1" font-size="7.6" text-anchor="start" fill="#000" color="#000" >10</text>
<text x="526.6" y="202.7" font-size="7.6" text-anchor="start" fill="#000" color="#000" >1</text>
<text x="0" y="0" font-size="8.1" text-anchor="middle" fill="#000" color="#000" transform="translate(539.5 175) rotate(-90)">Photoluminescence</text>
<text x="0" y="0" font-size="8.1" text-anchor="middle" fill="#000" color="#000" transform="translate(546.9 174.5) rotate(-90)">intensity (a.u.)</text>
<line x1="456.6" y1="215" x2="524" y2="139.8" stroke="#222" stroke-width="0.9" stroke-dasharray="2.4 2.2"/>
<circle cx="461.2" cy="207.8" r="1.85" fill="url(#gB)"/>
<circle cx="461.8" cy="205.4" r="1.85" fill="url(#gB)"/>
<circle cx="470.4" cy="197.6" r="1.85" fill="url(#gB)"/>
<circle cx="473" cy="195.7" r="1.85" fill="url(#gB)"/>
<circle cx="475.6" cy="193.1" r="1.85" fill="url(#gB)"/>
<circle cx="478.1" cy="190.4" r="1.85" fill="url(#gB)"/>
<circle cx="480.2" cy="187.9" r="1.85" fill="url(#gB)"/>
<circle cx="482.4" cy="185.6" r="1.85" fill="url(#gB)"/>
<circle cx="485.9" cy="181.6" r="1.85" fill="url(#gB)"/>
<circle cx="490.4" cy="173.6" r="1.85" fill="url(#gB)"/>
<circle cx="493.1" cy="170.9" r="1.85" fill="url(#gB)"/>
<circle cx="495.1" cy="167.9" r="1.85" fill="url(#gB)"/>
<circle cx="497.6" cy="163.9" r="1.85" fill="url(#gB)"/>
<circle cx="500.7" cy="161.3" r="1.85" fill="url(#gB)"/>
<circle cx="503.3" cy="159.2" r="1.85" fill="url(#gB)"/>
<circle cx="505.8" cy="157.2" r="1.85" fill="url(#gB)"/>
<circle cx="507.4" cy="154.5" r="1.85" fill="url(#gB)"/>
<circle cx="512" cy="146.3" r="1.85" fill="url(#gB)"/>
<circle cx="514" cy="144.9" r="1.85" fill="url(#gB)"/>
<circle cx="517.1" cy="144.9" r="1.85" fill="url(#gB)"/>
<circle cx="519.1" cy="143.2" r="1.85" fill="url(#gB)"/>
<text x="0" y="0" font-size="7.6" fill="#000" color="#000" transform="translate(467.6 188.6) rotate(-45.5)">1.02 ± 0.02</text>
<rect x="453.6" y="15.7" width="127.7" height="200.8" fill="none" stroke="#333" stroke-width="1.1"/>
<line x1="474" y1="216.5" x2="474" y2="211.5" stroke="#333" stroke-width="0.9" />
<line x1="474" y1="15.7" x2="474" y2="20.7" stroke="#333" stroke-width="0.9" />
<line x1="541.6" y1="216.5" x2="541.6" y2="211.5" stroke="#333" stroke-width="0.9" />
<line x1="541.6" y1="15.7" x2="541.6" y2="20.7" stroke="#333" stroke-width="0.9" />
<line x1="459" y1="216.5" x2="459" y2="214" stroke="#333" stroke-width="0.9" />
<line x1="459" y1="15.7" x2="459" y2="18.2" stroke="#333" stroke-width="0.9" />
<line x1="463.53" y1="216.5" x2="463.53" y2="214" stroke="#333" stroke-width="0.9" />
<line x1="463.53" y1="15.7" x2="463.53" y2="18.2" stroke="#333" stroke-width="0.9" />
<line x1="467.45" y1="216.5" x2="467.45" y2="214" stroke="#333" stroke-width="0.9" />
<line x1="467.45" y1="15.7" x2="467.45" y2="18.2" stroke="#333" stroke-width="0.9" />
<line x1="470.91" y1="216.5" x2="470.91" y2="214" stroke="#333" stroke-width="0.9" />
<line x1="470.91" y1="15.7" x2="470.91" y2="18.2" stroke="#333" stroke-width="0.9" />
<line x1="494.35" y1="216.5" x2="494.35" y2="214" stroke="#333" stroke-width="0.9" />
<line x1="494.35" y1="15.7" x2="494.35" y2="18.2" stroke="#333" stroke-width="0.9" />
<line x1="506.25" y1="216.5" x2="506.25" y2="214" stroke="#333" stroke-width="0.9" />
<line x1="506.25" y1="15.7" x2="506.25" y2="18.2" stroke="#333" stroke-width="0.9" />
<line x1="514.7" y1="216.5" x2="514.7" y2="214" stroke="#333" stroke-width="0.9" />
<line x1="514.7" y1="15.7" x2="514.7" y2="18.2" stroke="#333" stroke-width="0.9" />
<line x1="521.25" y1="216.5" x2="521.25" y2="214" stroke="#333" stroke-width="0.9" />
<line x1="521.25" y1="15.7" x2="521.25" y2="18.2" stroke="#333" stroke-width="0.9" />
<line x1="526.6" y1="216.5" x2="526.6" y2="214" stroke="#333" stroke-width="0.9" />
<line x1="526.6" y1="15.7" x2="526.6" y2="18.2" stroke="#333" stroke-width="0.9" />
<line x1="531.13" y1="216.5" x2="531.13" y2="214" stroke="#333" stroke-width="0.9" />
<line x1="531.13" y1="15.7" x2="531.13" y2="18.2" stroke="#333" stroke-width="0.9" />
<line x1="535.05" y1="216.5" x2="535.05" y2="214" stroke="#333" stroke-width="0.9" />
<line x1="535.05" y1="15.7" x2="535.05" y2="18.2" stroke="#333" stroke-width="0.9" />
<line x1="538.51" y1="216.5" x2="538.51" y2="214" stroke="#333" stroke-width="0.9" />
<line x1="538.51" y1="15.7" x2="538.51" y2="18.2" stroke="#333" stroke-width="0.9" />
<line x1="561.95" y1="216.5" x2="561.95" y2="214" stroke="#333" stroke-width="0.9" />
<line x1="561.95" y1="15.7" x2="561.95" y2="18.2" stroke="#333" stroke-width="0.9" />
<line x1="573.85" y1="216.5" x2="573.85" y2="214" stroke="#333" stroke-width="0.9" />
<line x1="573.85" y1="15.7" x2="573.85" y2="18.2" stroke="#333" stroke-width="0.9" />
<line x1="453.6" y1="216.4" x2="458.6" y2="216.4" stroke="#333" stroke-width="0.9" />
<line x1="581.3" y1="216.4" x2="576.3" y2="216.4" stroke="#333" stroke-width="0.9" />
<line x1="453.6" y1="166.25" x2="458.6" y2="166.25" stroke="#333" stroke-width="0.9" />
<line x1="581.3" y1="166.25" x2="576.3" y2="166.25" stroke="#333" stroke-width="0.9" />
<line x1="453.6" y1="116.1" x2="458.6" y2="116.1" stroke="#333" stroke-width="0.9" />
<line x1="581.3" y1="116.1" x2="576.3" y2="116.1" stroke="#333" stroke-width="0.9" />
<line x1="453.6" y1="65.95" x2="458.6" y2="65.95" stroke="#333" stroke-width="0.9" />
<line x1="581.3" y1="65.95" x2="576.3" y2="65.95" stroke="#333" stroke-width="0.9" />
<line x1="453.6" y1="15.8" x2="458.6" y2="15.8" stroke="#333" stroke-width="0.9" />
<line x1="581.3" y1="15.8" x2="576.3" y2="15.8" stroke="#333" stroke-width="0.9" />
<line x1="453.6" y1="201.3" x2="456.1" y2="201.3" stroke="#333" stroke-width="0.9" />
<line x1="581.3" y1="201.3" x2="578.8" y2="201.3" stroke="#333" stroke-width="0.9" />
<line x1="453.6" y1="192.47" x2="456.1" y2="192.47" stroke="#333" stroke-width="0.9" />
<line x1="581.3" y1="192.47" x2="578.8" y2="192.47" stroke="#333" stroke-width="0.9" />
<line x1="453.6" y1="186.21" x2="456.1" y2="186.21" stroke="#333" stroke-width="0.9" />
<line x1="581.3" y1="186.21" x2="578.8" y2="186.21" stroke="#333" stroke-width="0.9" />
<line x1="453.6" y1="181.35" x2="456.1" y2="181.35" stroke="#333" stroke-width="0.9" />
<line x1="581.3" y1="181.35" x2="578.8" y2="181.35" stroke="#333" stroke-width="0.9" />
<line x1="453.6" y1="177.38" x2="456.1" y2="177.38" stroke="#333" stroke-width="0.9" />
<line x1="581.3" y1="177.38" x2="578.8" y2="177.38" stroke="#333" stroke-width="0.9" />
<line x1="453.6" y1="174.02" x2="456.1" y2="174.02" stroke="#333" stroke-width="0.9" />
<line x1="581.3" y1="174.02" x2="578.8" y2="174.02" stroke="#333" stroke-width="0.9" />
<line x1="453.6" y1="171.11" x2="456.1" y2="171.11" stroke="#333" stroke-width="0.9" />
<line x1="581.3" y1="171.11" x2="578.8" y2="171.11" stroke="#333" stroke-width="0.9" />
<line x1="453.6" y1="168.54" x2="456.1" y2="168.54" stroke="#333" stroke-width="0.9" />
<line x1="581.3" y1="168.54" x2="578.8" y2="168.54" stroke="#333" stroke-width="0.9" />
<line x1="453.6" y1="151.15" x2="456.1" y2="151.15" stroke="#333" stroke-width="0.9" />
<line x1="581.3" y1="151.15" x2="578.8" y2="151.15" stroke="#333" stroke-width="0.9" />
<line x1="453.6" y1="142.32" x2="456.1" y2="142.32" stroke="#333" stroke-width="0.9" />
<line x1="581.3" y1="142.32" x2="578.8" y2="142.32" stroke="#333" stroke-width="0.9" />
<line x1="453.6" y1="136.06" x2="456.1" y2="136.06" stroke="#333" stroke-width="0.9" />
<line x1="581.3" y1="136.06" x2="578.8" y2="136.06" stroke="#333" stroke-width="0.9" />
<line x1="453.6" y1="131.2" x2="456.1" y2="131.2" stroke="#333" stroke-width="0.9" />
<line x1="581.3" y1="131.2" x2="578.8" y2="131.2" stroke="#333" stroke-width="0.9" />
<line x1="453.6" y1="127.23" x2="456.1" y2="127.23" stroke="#333" stroke-width="0.9" />
<line x1="581.3" y1="127.23" x2="578.8" y2="127.23" stroke="#333" stroke-width="0.9" />
<line x1="453.6" y1="123.87" x2="456.1" y2="123.87" stroke="#333" stroke-width="0.9" />
<line x1="581.3" y1="123.87" x2="578.8" y2="123.87" stroke="#333" stroke-width="0.9" />
<line x1="453.6" y1="120.96" x2="456.1" y2="120.96" stroke="#333" stroke-width="0.9" />
<line x1="581.3" y1="120.96" x2="578.8" y2="120.96" stroke="#333" stroke-width="0.9" />
<line x1="453.6" y1="118.39" x2="456.1" y2="118.39" stroke="#333" stroke-width="0.9" />
<line x1="581.3" y1="118.39" x2="578.8" y2="118.39" stroke="#333" stroke-width="0.9" />
<line x1="453.6" y1="101" x2="456.1" y2="101" stroke="#333" stroke-width="0.9" />
<line x1="581.3" y1="101" x2="578.8" y2="101" stroke="#333" stroke-width="0.9" />
<line x1="453.6" y1="92.17" x2="456.1" y2="92.17" stroke="#333" stroke-width="0.9" />
<line x1="581.3" y1="92.17" x2="578.8" y2="92.17" stroke="#333" stroke-width="0.9" />
<line x1="453.6" y1="85.91" x2="456.1" y2="85.91" stroke="#333" stroke-width="0.9" />
<line x1="581.3" y1="85.91" x2="578.8" y2="85.91" stroke="#333" stroke-width="0.9" />
<line x1="453.6" y1="81.05" x2="456.1" y2="81.05" stroke="#333" stroke-width="0.9" />
<line x1="581.3" y1="81.05" x2="578.8" y2="81.05" stroke="#333" stroke-width="0.9" />
<line x1="453.6" y1="77.08" x2="456.1" y2="77.08" stroke="#333" stroke-width="0.9" />
<line x1="581.3" y1="77.08" x2="578.8" y2="77.08" stroke="#333" stroke-width="0.9" />
<line x1="453.6" y1="73.72" x2="456.1" y2="73.72" stroke="#333" stroke-width="0.9" />
<line x1="581.3" y1="73.72" x2="578.8" y2="73.72" stroke="#333" stroke-width="0.9" />
<line x1="453.6" y1="70.81" x2="456.1" y2="70.81" stroke="#333" stroke-width="0.9" />
<line x1="581.3" y1="70.81" x2="578.8" y2="70.81" stroke="#333" stroke-width="0.9" />
<line x1="453.6" y1="68.24" x2="456.1" y2="68.24" stroke="#333" stroke-width="0.9" />
<line x1="581.3" y1="68.24" x2="578.8" y2="68.24" stroke="#333" stroke-width="0.9" />
<line x1="453.6" y1="50.85" x2="456.1" y2="50.85" stroke="#333" stroke-width="0.9" />
<line x1="581.3" y1="50.85" x2="578.8" y2="50.85" stroke="#333" stroke-width="0.9" />
<line x1="453.6" y1="42.02" x2="456.1" y2="42.02" stroke="#333" stroke-width="0.9" />
<line x1="581.3" y1="42.02" x2="578.8" y2="42.02" stroke="#333" stroke-width="0.9" />
<line x1="453.6" y1="35.76" x2="456.1" y2="35.76" stroke="#333" stroke-width="0.9" />
<line x1="581.3" y1="35.76" x2="578.8" y2="35.76" stroke="#333" stroke-width="0.9" />
<line x1="453.6" y1="30.9" x2="456.1" y2="30.9" stroke="#333" stroke-width="0.9" />
<line x1="581.3" y1="30.9" x2="578.8" y2="30.9" stroke="#333" stroke-width="0.9" />
<line x1="453.6" y1="26.93" x2="456.1" y2="26.93" stroke="#333" stroke-width="0.9" />
<line x1="581.3" y1="26.93" x2="578.8" y2="26.93" stroke="#333" stroke-width="0.9" />
<line x1="453.6" y1="23.57" x2="456.1" y2="23.57" stroke="#333" stroke-width="0.9" />
<line x1="581.3" y1="23.57" x2="578.8" y2="23.57" stroke="#333" stroke-width="0.9" />
<line x1="453.6" y1="20.66" x2="456.1" y2="20.66" stroke="#333" stroke-width="0.9" />
<line x1="581.3" y1="20.66" x2="578.8" y2="20.66" stroke="#333" stroke-width="0.9" />
<line x1="453.6" y1="18.09" x2="456.1" y2="18.09" stroke="#333" stroke-width="0.9" />
<line x1="581.3" y1="18.09" x2="578.8" y2="18.09" stroke="#333" stroke-width="0.9" />
<text x="450" y="18.4" font-size="8.5" text-anchor="end" fill="#000" color="#000" >100</text>
<text x="450" y="68.55" font-size="8.5" text-anchor="end" fill="#000" color="#000" >10</text>
<text x="450" y="118.7" font-size="8.5" text-anchor="end" fill="#000" color="#000" >1</text>
<text x="450" y="168.85" font-size="8.5" text-anchor="end" fill="#000" color="#000" >0.1</text>
<text x="450" y="219" font-size="8.5" text-anchor="end" fill="#000" color="#000" >0.01</text>
<text x="474" y="227.9" font-size="8.5" text-anchor="middle" fill="#000" color="#000" >10</text>
<text x="541.6" y="227.9" font-size="8.5" text-anchor="middle" fill="#000" color="#000" >100</text>
<text x="516.6" y="241.9" font-size="9.2" text-anchor="middle" fill="#000" color="#000" >Temperature (K)</text>
<text x="0" y="0" font-size="9.0" text-anchor="middle" fill="#000" color="#000" transform="translate(432.6 117.2) rotate(-90)">Intensity (a.u.)</text>
<line x1="585.2" y1="58.5" x2="659.9" y2="58.5" stroke="#2424ff" stroke-width="1"/>
<line x1="585.2" y1="61.3" x2="659.9" y2="61.3" stroke="#222" stroke-width="1"/>
<g clip-path="url(#clipCR)">
<circle cx="624.2" cy="39.3" r="1.8" fill="none" stroke="#1a1a1a" stroke-width="1.12"/>
<circle cx="624.2" cy="40.6" r="1.8" fill="none" stroke="#1a1a1a" stroke-width="1.12"/>
<circle cx="642.7" cy="35.5" r="1.8" fill="none" stroke="#1a1a1a" stroke-width="1.12"/>
<circle cx="653.2" cy="40.9" r="1.8" fill="none" stroke="#1a1a1a" stroke-width="1.12"/>
<circle cx="631.2" cy="45.3" r="1.8" fill="none" stroke="#1a1a1a" stroke-width="1.12"/>
<circle cx="638.1" cy="48.5" r="1.8" fill="none" stroke="#1a1a1a" stroke-width="1.12"/>
<circle cx="656.1" cy="48.5" r="1.8" fill="none" stroke="#1a1a1a" stroke-width="1.12"/>
<circle cx="651.4" cy="48" r="1.8" fill="none" stroke="#1a1a1a" stroke-width="1.12"/>
<circle cx="646.3" cy="51" r="1.8" fill="none" stroke="#1a1a1a" stroke-width="1.12"/>
<circle cx="590.9" cy="47.5" r="1.8" fill="none" stroke="#1a1a1a" stroke-width="1.12"/>
<circle cx="608.5" cy="50" r="1.8" fill="none" stroke="#1a1a1a" stroke-width="1.12"/>
<circle cx="610.6" cy="51.4" r="1.8" fill="none" stroke="#1a1a1a" stroke-width="1.12"/>
<circle cx="618.4" cy="52.4" r="1.8" fill="none" stroke="#1a1a1a" stroke-width="1.12"/>
<circle cx="633.2" cy="52.2" r="1.8" fill="none" stroke="#1a1a1a" stroke-width="1.12"/>
<circle cx="636.1" cy="52" r="1.8" fill="none" stroke="#1a1a1a" stroke-width="1.12"/>
<circle cx="595.1" cy="56.1" r="1.8" fill="none" stroke="#1a1a1a" stroke-width="1.12"/>
<circle cx="593" cy="60.6" r="1.8" fill="none" stroke="#1a1a1a" stroke-width="1.12"/>
<circle cx="608.6" cy="56.5" r="1.8" fill="none" stroke="#1a1a1a" stroke-width="1.12"/>
<circle cx="615.1" cy="60.6" r="1.8" fill="none" stroke="#1a1a1a" stroke-width="1.12"/>
<circle cx="620.9" cy="59.8" r="1.8" fill="none" stroke="#1a1a1a" stroke-width="1.12"/>
<circle cx="634.8" cy="57.8" r="1.8" fill="none" stroke="#1a1a1a" stroke-width="1.12"/>
<circle cx="641.4" cy="57.3" r="1.8" fill="none" stroke="#1a1a1a" stroke-width="1.12"/>
<circle cx="647.1" cy="60.6" r="1.8" fill="none" stroke="#1a1a1a" stroke-width="1.12"/>
<circle cx="587.3" cy="65.5" r="1.8" fill="none" stroke="#1a1a1a" stroke-width="1.12"/>
<circle cx="596.8" cy="62.7" r="1.8" fill="none" stroke="#1a1a1a" stroke-width="1.12"/>
<circle cx="602.4" cy="66" r="1.8" fill="none" stroke="#1a1a1a" stroke-width="1.12"/>
<circle cx="611.5" cy="65" r="1.8" fill="none" stroke="#1a1a1a" stroke-width="1.12"/>
<circle cx="617.6" cy="64.7" r="1.8" fill="none" stroke="#1a1a1a" stroke-width="1.12"/>
<circle cx="626.3" cy="64.3" r="1.8" fill="none" stroke="#1a1a1a" stroke-width="1.12"/>
<circle cx="624.7" cy="66" r="1.8" fill="none" stroke="#1a1a1a" stroke-width="1.12"/>
<circle cx="649.6" cy="66.3" r="1.8" fill="none" stroke="#1a1a1a" stroke-width="1.12"/>
<circle cx="614.3" cy="69.9" r="1.8" fill="none" stroke="#1a1a1a" stroke-width="1.12"/>
<circle cx="609.4" cy="74.2" r="1.8" fill="none" stroke="#1a1a1a" stroke-width="1.12"/>
<circle cx="635.6" cy="70.9" r="1.8" fill="none" stroke="#1a1a1a" stroke-width="1.12"/>
<circle cx="650.4" cy="72.5" r="1.8" fill="none" stroke="#1a1a1a" stroke-width="1.12"/>
<circle cx="593" cy="78.6" r="1.8" fill="none" stroke="#1a1a1a" stroke-width="1.12"/>
<circle cx="597.9" cy="76.5" r="1.8" fill="none" stroke="#1a1a1a" stroke-width="1.12"/>
<circle cx="619.7" cy="79.8" r="1.8" fill="none" stroke="#1a1a1a" stroke-width="1.12"/>
<circle cx="588.6" cy="89.5" r="1.8" fill="none" stroke="#1a1a1a" stroke-width="1.12"/>
<circle cx="626.3" cy="89.5" r="1.8" fill="none" stroke="#1a1a1a" stroke-width="1.12"/>
<circle cx="640.1" cy="91.8" r="1.8" fill="none" stroke="#1a1a1a" stroke-width="1.12"/>
<circle cx="648.3" cy="86.6" r="1.8" fill="none" stroke="#1a1a1a" stroke-width="1.12"/>
<circle cx="644.7" cy="108.2" r="1.8" fill="none" stroke="#1a1a1a" stroke-width="1.12"/>
<circle cx="587.3" cy="47.5" r="1.8" fill="none" stroke="#1c1cff" stroke-width="1.12"/>
<circle cx="590.6" cy="50" r="1.8" fill="none" stroke="#1c1cff" stroke-width="1.12"/>
<circle cx="594.5" cy="49.2" r="1.8" fill="none" stroke="#1c1cff" stroke-width="1.12"/>
<circle cx="603.3" cy="51.5" r="1.8" fill="none" stroke="#1c1cff" stroke-width="1.12"/>
<circle cx="600.4" cy="53.7" r="1.8" fill="none" stroke="#1c1cff" stroke-width="1.12"/>
<circle cx="613.8" cy="53" r="1.8" fill="none" stroke="#1c1cff" stroke-width="1.12"/>
<circle cx="625.3" cy="52.4" r="1.8" fill="none" stroke="#1c1cff" stroke-width="1.12"/>
<circle cx="642.2" cy="51.5" r="1.8" fill="none" stroke="#1c1cff" stroke-width="1.12"/>
<circle cx="652.9" cy="53.1" r="1.8" fill="none" stroke="#1c1cff" stroke-width="1.12"/>
<circle cx="587.3" cy="56.1" r="1.8" fill="none" stroke="#1c1cff" stroke-width="1.12"/>
<circle cx="590.6" cy="58.4" r="1.8" fill="none" stroke="#1c1cff" stroke-width="1.12"/>
<circle cx="596.8" cy="59.4" r="1.8" fill="none" stroke="#1c1cff" stroke-width="1.12"/>
<circle cx="604.5" cy="57.8" r="1.8" fill="none" stroke="#1c1cff" stroke-width="1.12"/>
<circle cx="611.9" cy="55.2" r="1.8" fill="none" stroke="#1c1cff" stroke-width="1.12"/>
<circle cx="618.4" cy="54.5" r="1.8" fill="none" stroke="#1c1cff" stroke-width="1.12"/>
<circle cx="628.6" cy="57.8" r="1.8" fill="none" stroke="#1c1cff" stroke-width="1.12"/>
<circle cx="631.5" cy="54.5" r="1.8" fill="none" stroke="#1c1cff" stroke-width="1.12"/>
<circle cx="637.8" cy="55.2" r="1.8" fill="none" stroke="#1c1cff" stroke-width="1.12"/>
<circle cx="641.4" cy="60.6" r="1.8" fill="none" stroke="#1c1cff" stroke-width="1.12"/>
<circle cx="652" cy="60.6" r="1.8" fill="none" stroke="#1c1cff" stroke-width="1.12"/>
<circle cx="656.1" cy="66.3" r="1.8" fill="none" stroke="#1c1cff" stroke-width="1.12"/>
<circle cx="649.2" cy="63.9" r="1.8" fill="none" stroke="#1c1cff" stroke-width="1.12"/>
<circle cx="630.7" cy="64.7" r="1.8" fill="none" stroke="#1c1cff" stroke-width="1.12"/>
<circle cx="620.9" cy="66" r="1.8" fill="none" stroke="#1c1cff" stroke-width="1.12"/>
<circle cx="643.8" cy="69.9" r="1.8" fill="none" stroke="#1c1cff" stroke-width="1.12"/>
<circle cx="616.5" cy="73.2" r="1.8" fill="none" stroke="#1c1cff" stroke-width="1.12"/>
<circle cx="624.2" cy="72.5" r="1.8" fill="none" stroke="#1c1cff" stroke-width="1.12"/>
<circle cx="632.4" cy="74.5" r="1.8" fill="none" stroke="#1c1cff" stroke-width="1.12"/>
<circle cx="634.5" cy="74.2" r="1.8" fill="none" stroke="#1c1cff" stroke-width="1.12"/>
<circle cx="632.2" cy="82.6" r="1.8" fill="none" stroke="#1c1cff" stroke-width="1.12"/>
<circle cx="659.4" cy="76.1" r="1.8" fill="none" stroke="#1c1cff" stroke-width="1.12"/>
<circle cx="646" cy="91.5" r="1.8" fill="none" stroke="#1c1cff" stroke-width="1.12"/>
<circle cx="644.7" cy="93.4" r="1.8" fill="none" stroke="#1c1cff" stroke-width="1.12"/>
<circle cx="658.6" cy="96.1" r="1.8" fill="none" stroke="#1c1cff" stroke-width="1.12"/>
<circle cx="588.6" cy="105.4" r="1.8" fill="none" stroke="#1c1cff" stroke-width="1.12"/>
</g>
<text x="592.8" y="35.6" font-size="9.3" text-anchor="start" fill="#2020ff" color="#2020ff" >4 K</text>
<text x="603.1" y="105.8" font-size="9.3" text-anchor="start" fill="#222" color="#222" >300 K</text>
<text x="661.8" y="58.4" font-size="7.8" text-anchor="start" fill="#2020ff" color="#2020ff" >14 a.u.</text>
<text x="661.8" y="66.9" font-size="7.8" text-anchor="start" fill="#222" color="#222" >13 a.u.</text>
<rect x="585.2" y="15.5" width="74.7" height="201" fill="none" stroke="#333" stroke-width="1.1"/>
<line x1="619.5" y1="216.5" x2="619.5" y2="211.5" stroke="#333" stroke-width="0.9" />
<line x1="619.5" y1="15.5" x2="619.5" y2="20.5" stroke="#333" stroke-width="0.9" />
<line x1="653.7" y1="216.5" x2="653.7" y2="211.5" stroke="#333" stroke-width="0.9" />
<line x1="653.7" y1="15.5" x2="653.7" y2="20.5" stroke="#333" stroke-width="0.9" />
<line x1="602.4" y1="216.5" x2="602.4" y2="214" stroke="#333" stroke-width="0.9" />
<line x1="602.4" y1="15.5" x2="602.4" y2="18" stroke="#333" stroke-width="0.9" />
<line x1="636.6" y1="216.5" x2="636.6" y2="214" stroke="#333" stroke-width="0.9" />
<line x1="636.6" y1="15.5" x2="636.6" y2="18" stroke="#333" stroke-width="0.9" />
<line x1="585.2" y1="216.4" x2="590.2" y2="216.4" stroke="#333" stroke-width="0.9" />
<line x1="659.9" y1="216.4" x2="654.9" y2="216.4" stroke="#333" stroke-width="0.9" />
<line x1="585.2" y1="166.25" x2="590.2" y2="166.25" stroke="#333" stroke-width="0.9" />
<line x1="659.9" y1="166.25" x2="654.9" y2="166.25" stroke="#333" stroke-width="0.9" />
<line x1="585.2" y1="116.1" x2="590.2" y2="116.1" stroke="#333" stroke-width="0.9" />
<line x1="659.9" y1="116.1" x2="654.9" y2="116.1" stroke="#333" stroke-width="0.9" />
<line x1="585.2" y1="65.95" x2="590.2" y2="65.95" stroke="#333" stroke-width="0.9" />
<line x1="659.9" y1="65.95" x2="654.9" y2="65.95" stroke="#333" stroke-width="0.9" />
<line x1="585.2" y1="15.8" x2="590.2" y2="15.8" stroke="#333" stroke-width="0.9" />
<line x1="659.9" y1="15.8" x2="654.9" y2="15.8" stroke="#333" stroke-width="0.9" />
<line x1="585.2" y1="201.3" x2="587.7" y2="201.3" stroke="#333" stroke-width="0.9" />
<line x1="659.9" y1="201.3" x2="657.4" y2="201.3" stroke="#333" stroke-width="0.9" />
<line x1="585.2" y1="192.47" x2="587.7" y2="192.47" stroke="#333" stroke-width="0.9" />
<line x1="659.9" y1="192.47" x2="657.4" y2="192.47" stroke="#333" stroke-width="0.9" />
<line x1="585.2" y1="186.21" x2="587.7" y2="186.21" stroke="#333" stroke-width="0.9" />
<line x1="659.9" y1="186.21" x2="657.4" y2="186.21" stroke="#333" stroke-width="0.9" />
<line x1="585.2" y1="181.35" x2="587.7" y2="181.35" stroke="#333" stroke-width="0.9" />
<line x1="659.9" y1="181.35" x2="657.4" y2="181.35" stroke="#333" stroke-width="0.9" />
<line x1="585.2" y1="177.38" x2="587.7" y2="177.38" stroke="#333" stroke-width="0.9" />
<line x1="659.9" y1="177.38" x2="657.4" y2="177.38" stroke="#333" stroke-width="0.9" />
<line x1="585.2" y1="174.02" x2="587.7" y2="174.02" stroke="#333" stroke-width="0.9" />
<line x1="659.9" y1="174.02" x2="657.4" y2="174.02" stroke="#333" stroke-width="0.9" />
<line x1="585.2" y1="171.11" x2="587.7" y2="171.11" stroke="#333" stroke-width="0.9" />
<line x1="659.9" y1="171.11" x2="657.4" y2="171.11" stroke="#333" stroke-width="0.9" />
<line x1="585.2" y1="168.54" x2="587.7" y2="168.54" stroke="#333" stroke-width="0.9" />
<line x1="659.9" y1="168.54" x2="657.4" y2="168.54" stroke="#333" stroke-width="0.9" />
<line x1="585.2" y1="151.15" x2="587.7" y2="151.15" stroke="#333" stroke-width="0.9" />
<line x1="659.9" y1="151.15" x2="657.4" y2="151.15" stroke="#333" stroke-width="0.9" />
<line x1="585.2" y1="142.32" x2="587.7" y2="142.32" stroke="#333" stroke-width="0.9" />
<line x1="659.9" y1="142.32" x2="657.4" y2="142.32" stroke="#333" stroke-width="0.9" />
<line x1="585.2" y1="136.06" x2="587.7" y2="136.06" stroke="#333" stroke-width="0.9" />
<line x1="659.9" y1="136.06" x2="657.4" y2="136.06" stroke="#333" stroke-width="0.9" />
<line x1="585.2" y1="131.2" x2="587.7" y2="131.2" stroke="#333" stroke-width="0.9" />
<line x1="659.9" y1="131.2" x2="657.4" y2="131.2" stroke="#333" stroke-width="0.9" />
<line x1="585.2" y1="127.23" x2="587.7" y2="127.23" stroke="#333" stroke-width="0.9" />
<line x1="659.9" y1="127.23" x2="657.4" y2="127.23" stroke="#333" stroke-width="0.9" />
<line x1="585.2" y1="123.87" x2="587.7" y2="123.87" stroke="#333" stroke-width="0.9" />
<line x1="659.9" y1="123.87" x2="657.4" y2="123.87" stroke="#333" stroke-width="0.9" />
<line x1="585.2" y1="120.96" x2="587.7" y2="120.96" stroke="#333" stroke-width="0.9" />
<line x1="659.9" y1="120.96" x2="657.4" y2="120.96" stroke="#333" stroke-width="0.9" />
<line x1="585.2" y1="118.39" x2="587.7" y2="118.39" stroke="#333" stroke-width="0.9" />
<line x1="659.9" y1="118.39" x2="657.4" y2="118.39" stroke="#333" stroke-width="0.9" />
<line x1="585.2" y1="101" x2="587.7" y2="101" stroke="#333" stroke-width="0.9" />
<line x1="659.9" y1="101" x2="657.4" y2="101" stroke="#333" stroke-width="0.9" />
<line x1="585.2" y1="92.17" x2="587.7" y2="92.17" stroke="#333" stroke-width="0.9" />
<line x1="659.9" y1="92.17" x2="657.4" y2="92.17" stroke="#333" stroke-width="0.9" />
<line x1="585.2" y1="85.91" x2="587.7" y2="85.91" stroke="#333" stroke-width="0.9" />
<line x1="659.9" y1="85.91" x2="657.4" y2="85.91" stroke="#333" stroke-width="0.9" />
<line x1="585.2" y1="81.05" x2="587.7" y2="81.05" stroke="#333" stroke-width="0.9" />
<line x1="659.9" y1="81.05" x2="657.4" y2="81.05" stroke="#333" stroke-width="0.9" />
<line x1="585.2" y1="77.08" x2="587.7" y2="77.08" stroke="#333" stroke-width="0.9" />
<line x1="659.9" y1="77.08" x2="657.4" y2="77.08" stroke="#333" stroke-width="0.9" />
<line x1="585.2" y1="73.72" x2="587.7" y2="73.72" stroke="#333" stroke-width="0.9" />
<line x1="659.9" y1="73.72" x2="657.4" y2="73.72" stroke="#333" stroke-width="0.9" />
<line x1="585.2" y1="70.81" x2="587.7" y2="70.81" stroke="#333" stroke-width="0.9" />
<line x1="659.9" y1="70.81" x2="657.4" y2="70.81" stroke="#333" stroke-width="0.9" />
<line x1="585.2" y1="68.24" x2="587.7" y2="68.24" stroke="#333" stroke-width="0.9" />
<line x1="659.9" y1="68.24" x2="657.4" y2="68.24" stroke="#333" stroke-width="0.9" />
<line x1="585.2" y1="50.85" x2="587.7" y2="50.85" stroke="#333" stroke-width="0.9" />
<line x1="659.9" y1="50.85" x2="657.4" y2="50.85" stroke="#333" stroke-width="0.9" />
<line x1="585.2" y1="42.02" x2="587.7" y2="42.02" stroke="#333" stroke-width="0.9" />
<line x1="659.9" y1="42.02" x2="657.4" y2="42.02" stroke="#333" stroke-width="0.9" />
<line x1="585.2" y1="35.76" x2="587.7" y2="35.76" stroke="#333" stroke-width="0.9" />
<line x1="659.9" y1="35.76" x2="657.4" y2="35.76" stroke="#333" stroke-width="0.9" />
<line x1="585.2" y1="30.9" x2="587.7" y2="30.9" stroke="#333" stroke-width="0.9" />
<line x1="659.9" y1="30.9" x2="657.4" y2="30.9" stroke="#333" stroke-width="0.9" />
<line x1="585.2" y1="26.93" x2="587.7" y2="26.93" stroke="#333" stroke-width="0.9" />
<line x1="659.9" y1="26.93" x2="657.4" y2="26.93" stroke="#333" stroke-width="0.9" />
<line x1="585.2" y1="23.57" x2="587.7" y2="23.57" stroke="#333" stroke-width="0.9" />
<line x1="659.9" y1="23.57" x2="657.4" y2="23.57" stroke="#333" stroke-width="0.9" />
<line x1="585.2" y1="20.66" x2="587.7" y2="20.66" stroke="#333" stroke-width="0.9" />
<line x1="659.9" y1="20.66" x2="657.4" y2="20.66" stroke="#333" stroke-width="0.9" />
<line x1="585.2" y1="18.09" x2="587.7" y2="18.09" stroke="#333" stroke-width="0.9" />
<line x1="659.9" y1="18.09" x2="657.4" y2="18.09" stroke="#333" stroke-width="0.9" />
<text x="585.3" y="227.9" font-size="8.5" text-anchor="middle" fill="#000" color="#000" >0</text>
<text x="619.5" y="227.9" font-size="8.5" text-anchor="middle" fill="#000" color="#000" >30</text>
<text x="653.7" y="227.9" font-size="8.5" text-anchor="middle" fill="#000" color="#000" >60</text>
<text x="621" y="241.6" font-size="9.2" text-anchor="middle" fill="#000" color="#000" >Nanowire</text></svg>
</body></html>
